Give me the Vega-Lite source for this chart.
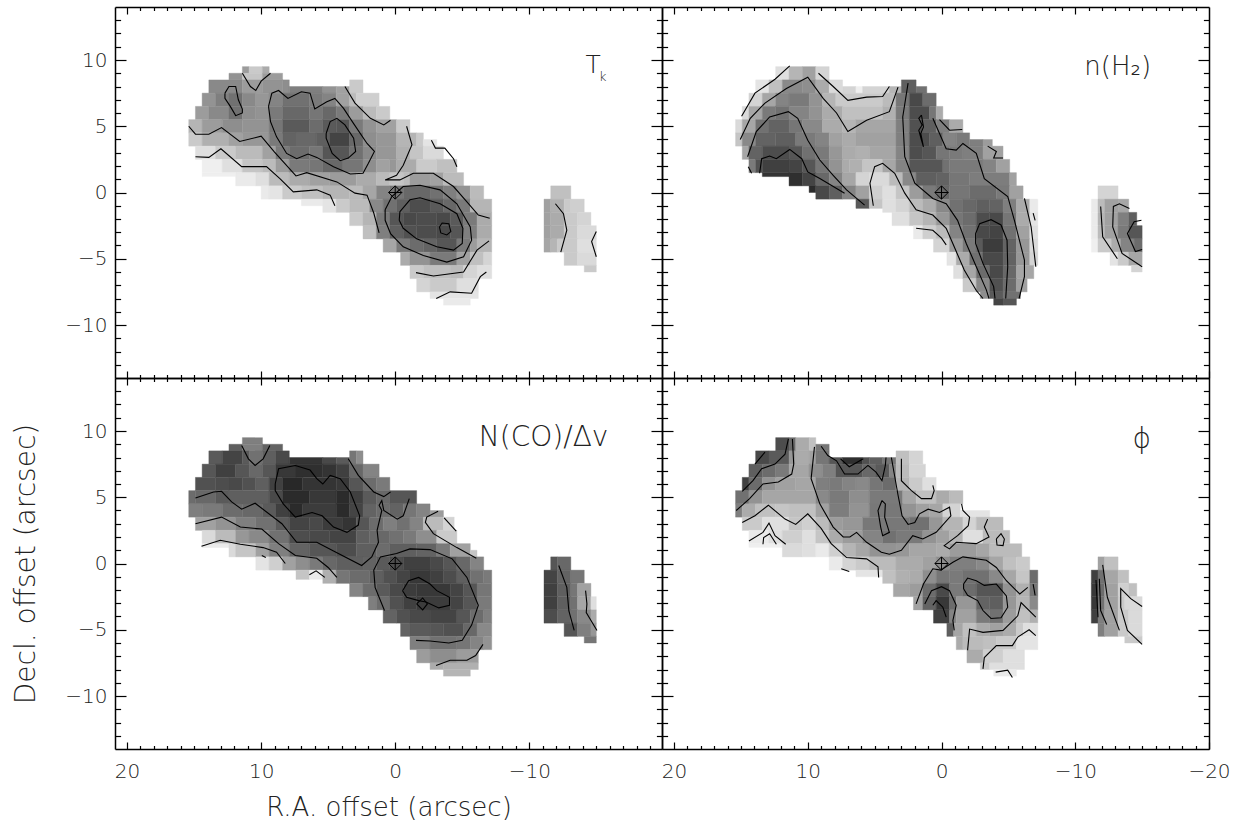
{"$schema":"https://vega.github.io/schema/vega-lite/v6.json","padding":{"left":12,"top":6,"right":10,"bottom":5},"background":"white","spacing":0,"columns":2,"bounds":"flush",
"config":{"view":{"stroke":null},"axis":{"grid":false,"domainColor":"#000","domainWidth":1.5,"tickColor":"#000","tickWidth":1.2,"labelFont":"DejaVu Sans","labelFontWeight":200,"labelFontSize":20,"labelColor":"#222","titleFont":"DejaVu Sans","titleFontWeight":200,"titleFontSize":26,"titleColor":"#222","labelOverlap":false,"labelBound":false,"labelFlush":false}},
"datasets":{
"t":[
{"x":11.4,"x2":10.9,"y":9.5,"y2":9,"v":160},{"x":10.9,"x2":9.9,"y":9.5,"y2":9,"v":205},{"x":9.9,"x2":9.4,"y":9.5,"y2":9,"v":175},
{"x":12.4,"x2":11.4,"y":9,"y2":8.5,"v":150},{"x":11.4,"x2":9.9,"y":9,"y2":8.5,"v":200},{"x":9.9,"x2":8.4,"y":9,"y2":8.5,"v":160},
{"x":13.9,"x2":11.4,"y":8.5,"y2":7.5,"v":140},{"x":11.4,"x2":9.9,"y":8.5,"y2":7.5,"v":160},{"x":9.9,"x2":8.4,"y":8.5,"y2":7.5,"v":150},{"x":8.4,"x2":7.9,"y":8.5,"y2":7.5,"v":145},{"x":7.9,"x2":5.4,"y":8,"y2":7.5,"v":130},{"x":5.4,"x2":4.4,"y":8,"y2":7.5,"v":150},{"x":4.4,"x2":3.4,"y":8,"y2":7.5,"v":165},{"x":3.4,"x2":2.4,"y":8.5,"y2":7.5,"v":205},
{"x":14.4,"x2":13.4,"y":7.5,"y2":6.5,"v":150},{"x":13.4,"x2":12.4,"y":7.5,"y2":6.5,"v":130},{"x":12.4,"x2":11.4,"y":7.5,"y2":6.5,"v":115},{"x":11.4,"x2":10.4,"y":7.5,"y2":6.5,"v":140},{"x":10.4,"x2":9.4,"y":7.5,"y2":6.5,"v":155},{"x":9.4,"x2":8.4,"y":7.5,"y2":6.5,"v":135},{"x":8.4,"x2":6.4,"y":7.5,"y2":6.5,"v":115},{"x":6.4,"x2":5.4,"y":7.5,"y2":6.5,"v":125},{"x":5.4,"x2":4.4,"y":7.5,"y2":6.5,"v":135},{"x":4.4,"x2":3.4,"y":7.5,"y2":6.5,"v":165},{"x":3.4,"x2":2.9,"y":7.5,"y2":6.5,"v":190},{"x":2.9,"x2":1.2,"y":7.5,"y2":6.5,"v":210},
{"x":14.9,"x2":13.9,"y":6.5,"y2":5.5,"v":160},{"x":13.9,"x2":12.4,"y":6.5,"y2":5.5,"v":140},{"x":12.4,"x2":11.4,"y":6.5,"y2":5.5,"v":115},{"x":11.4,"x2":10.4,"y":6.5,"y2":5.5,"v":145},{"x":10.4,"x2":9.4,"y":6.5,"y2":5.5,"v":150},{"x":9.4,"x2":8.4,"y":6.5,"y2":5.5,"v":125},{"x":8.4,"x2":6.4,"y":6.5,"y2":5.5,"v":105},{"x":6.4,"x2":5.4,"y":6.5,"y2":5.5,"v":120},{"x":5.4,"x2":4.4,"y":6.5,"y2":5.5,"v":105},{"x":4.4,"x2":3.4,"y":6.5,"y2":5.5,"v":125},{"x":3.4,"x2":2.4,"y":6.5,"y2":5.5,"v":160},{"x":2.4,"x2":1.4,"y":6.5,"y2":5.5,"v":190},{"x":1.4,"x2":0.4,"y":6.5,"y2":5.5,"v":205},
{"x":15.4,"x2":14.4,"y":5.5,"y2":4.5,"v":185},{"x":14.4,"x2":12.9,"y":5.5,"y2":4.5,"v":160},{"x":12.9,"x2":11.4,"y":5.5,"y2":4.5,"v":145},{"x":11.4,"x2":9.4,"y":5.5,"y2":4.5,"v":150},{"x":9.4,"x2":8.4,"y":5.5,"y2":4.5,"v":120},{"x":8.4,"x2":6.4,"y":5.5,"y2":4.5,"v":90},{"x":6.4,"x2":5.4,"y":5.5,"y2":4.5,"v":110},{"x":5.4,"x2":4.4,"y":5.5,"y2":4.5,"v":90},{"x":4.4,"x2":3.4,"y":5.5,"y2":4.5,"v":85},{"x":3.4,"x2":2.4,"y":5.5,"y2":4.5,"v":125},{"x":2.4,"x2":1.4,"y":5.5,"y2":4.5,"v":150},{"x":1.4,"x2":-0.1,"y":5.5,"y2":4.5,"v":165},{"x":-0.1,"x2":-1.1,"y":5.5,"y2":4.5,"v":205},
{"x":15.4,"x2":14.4,"y":4.5,"y2":3.5,"v":205},{"x":14.4,"x2":12.4,"y":4.5,"y2":3.5,"v":180},{"x":12.4,"x2":11.4,"y":4.5,"y2":3.5,"v":165},{"x":11.4,"x2":9.4,"y":4.5,"y2":3.5,"v":155},{"x":9.4,"x2":8.4,"y":4.5,"y2":3.5,"v":125},{"x":8.4,"x2":7.4,"y":4.5,"y2":3.5,"v":100},{"x":7.4,"x2":5.9,"y":4.5,"y2":3.5,"v":105},{"x":5.9,"x2":4.9,"y":4.5,"y2":3.5,"v":95},{"x":4.9,"x2":3.4,"y":4.5,"y2":3.5,"v":65},{"x":3.4,"x2":2.4,"y":4.5,"y2":3.5,"v":105},{"x":2.4,"x2":1.4,"y":4.5,"y2":3.5,"v":145},{"x":1.4,"x2":-0.1,"y":4.5,"y2":3.5,"v":155},{"x":-0.1,"x2":-1.6,"y":4.5,"y2":3.5,"v":185},{"x":-1.6,"x2":-2.1,"y":4.5,"y2":3.5,"v":205},{"x":-2.1,"x2":-3.1,"y":4,"y2":3.5,"v":230},
{"x":14.9,"x2":13.4,"y":3.5,"y2":2.5,"v":225},{"x":13.4,"x2":11.9,"y":3.5,"y2":2.5,"v":205},{"x":11.9,"x2":9.9,"y":3.5,"y2":2.5,"v":190},{"x":9.9,"x2":8.9,"y":3.5,"y2":2.5,"v":165},{"x":8.9,"x2":7.9,"y":3.5,"y2":2.5,"v":125},{"x":7.9,"x2":6.4,"y":3.5,"y2":2.5,"v":110},{"x":6.4,"x2":5.4,"y":3.5,"y2":2.5,"v":120},{"x":5.4,"x2":3.4,"y":3.5,"y2":2.5,"v":85},{"x":3.4,"x2":2.4,"y":3.5,"y2":2.5,"v":115},{"x":2.4,"x2":1.4,"y":3.5,"y2":2.5,"v":140},{"x":1.4,"x2":-0.1,"y":3.5,"y2":2.5,"v":155},{"x":-0.1,"x2":-1.1,"y":3.5,"y2":2.5,"v":180},{"x":-1.1,"x2":-2.1,"y":3.5,"y2":2.5,"v":200},{"x":-2.1,"x2":-3.6,"y":3.5,"y2":2.5,"v":220},
{"x":14.4,"x2":12.9,"y":2.5,"y2":1.5,"v":240},{"x":12.9,"x2":11.4,"y":2.5,"y2":1.5,"v":225},{"x":11.4,"x2":9.9,"y":2.5,"y2":1.5,"v":200},{"x":9.9,"x2":8.9,"y":2.5,"y2":1.5,"v":190},{"x":8.9,"x2":7.9,"y":2.5,"y2":1.5,"v":160},{"x":7.9,"x2":6.4,"y":2.5,"y2":1.5,"v":125},{"x":6.4,"x2":5.4,"y":2.5,"y2":1.5,"v":120},{"x":5.4,"x2":3.9,"y":2.5,"y2":1.5,"v":105},{"x":3.9,"x2":2.4,"y":2.5,"y2":1.5,"v":120},{"x":2.4,"x2":1.4,"y":2.5,"y2":1.5,"v":145},{"x":1.4,"x2":0.4,"y":2.5,"y2":1.5,"v":165},{"x":0.4,"x2":-0.1,"y":2.5,"y2":1.5,"v":155},{"x":-0.1,"x2":-1.6,"y":2.5,"y2":1.5,"v":175},{"x":-1.6,"x2":-3.1,"y":2.5,"y2":1.5,"v":205},{"x":-3.1,"x2":-4.6,"y":2.5,"y2":1.5,"v":195},
{"x":14.4,"x2":11.9,"y":1.5,"y2":1.2,"v":240},{"x":11.9,"x2":10.4,"y":1.5,"y2":0.5,"v":235},{"x":10.4,"x2":9.4,"y":1.5,"y2":0.5,"v":225},{"x":9.4,"x2":7.9,"y":1.5,"y2":0.5,"v":190},{"x":7.9,"x2":6.4,"y":1.5,"y2":0.5,"v":175},{"x":6.4,"x2":4.9,"y":1.5,"y2":0.5,"v":165},{"x":4.9,"x2":2.9,"y":1.5,"y2":0.5,"v":160},{"x":2.9,"x2":1.4,"y":1.5,"y2":0.5,"v":175},{"x":1.4,"x2":0.4,"y":1.5,"y2":0.5,"v":190},{"x":0.4,"x2":-0.6,"y":1.5,"y2":0.5,"v":200},{"x":-0.6,"x2":-1.1,"y":1.5,"y2":0.5,"v":190},{"x":-1.1,"x2":-2.6,"y":1.5,"y2":0.5,"v":160},{"x":-2.6,"x2":-3.6,"y":1.5,"y2":0.5,"v":165},{"x":-3.6,"x2":-5.1,"y":1.5,"y2":0.5,"v":190},
{"x":10,"x2":9.4,"y":0.5,"y2":-0.5,"v":235},{"x":9.4,"x2":8.4,"y":0.5,"y2":-0.5,"v":230},{"x":8.4,"x2":7,"y":0.5,"y2":-0.5,"v":205},{"x":7,"x2":5.4,"y":0.5,"y2":-0.5,"v":195},{"x":5.4,"x2":3.4,"y":0.5,"y2":-0.5,"v":185},{"x":3.4,"x2":2.4,"y":0.5,"y2":-0.5,"v":190},{"x":2.4,"x2":1.4,"y":0.5,"y2":-0.5,"v":170},{"x":1.4,"x2":0.4,"y":0.5,"y2":-0.5,"v":135},{"x":0.4,"x2":-0.6,"y":0.5,"y2":-0.5,"v":120},{"x":-0.6,"x2":-2.6,"y":0.5,"y2":-0.5,"v":105},{"x":-2.6,"x2":-3.6,"y":0.5,"y2":-0.5,"v":115},{"x":-3.6,"x2":-4.6,"y":0.5,"y2":-0.5,"v":130},{"x":-4.6,"x2":-5.6,"y":0.5,"y2":-0.5,"v":150},{"x":-5.6,"x2":-6.6,"y":0.5,"y2":-0.5,"v":190},
{"x":7,"x2":5.4,"y":-0.5,"y2":-1,"v":235},{"x":5.4,"x2":4.4,"y":-0.5,"y2":-1.5,"v":230},{"x":4.4,"x2":3.4,"y":-0.5,"y2":-1.5,"v":205},{"x":3.4,"x2":1.9,"y":-0.5,"y2":-1.5,"v":190},{"x":1.9,"x2":0.9,"y":-0.5,"y2":-1.5,"v":140},{"x":0.9,"x2":-0.1,"y":-0.5,"y2":-1.5,"v":115},{"x":-0.1,"x2":-1.1,"y":-0.5,"y2":-1.5,"v":95},{"x":-1.1,"x2":-2.6,"y":-0.5,"y2":-1.5,"v":75},{"x":-2.6,"x2":-3.6,"y":-0.5,"y2":-1.5,"v":90},{"x":-3.6,"x2":-4.6,"y":-0.5,"y2":-1.5,"v":105},{"x":-4.6,"x2":-5.6,"y":-0.5,"y2":-1.5,"v":125},{"x":-5.6,"x2":-7.2,"y":-0.5,"y2":-1.5,"v":185},
{"x":3.4,"x2":2.4,"y":-1.5,"y2":-2.5,"v":205},{"x":2.4,"x2":1.4,"y":-1.5,"y2":-2.5,"v":185},{"x":1.4,"x2":0.4,"y":-1.5,"y2":-2.5,"v":125},{"x":0.4,"x2":-0.6,"y":-1.5,"y2":-2.5,"v":85},{"x":-0.6,"x2":-1.6,"y":-1.5,"y2":-2.5,"v":70},{"x":-1.6,"x2":-3.1,"y":-1.5,"y2":-2.5,"v":75},{"x":-3.1,"x2":-4.1,"y":-1.5,"y2":-2.5,"v":70},{"x":-4.1,"x2":-5.1,"y":-1.5,"y2":-2.5,"v":90},{"x":-5.1,"x2":-6.1,"y":-1.5,"y2":-2.5,"v":125},{"x":-6.1,"x2":-7.2,"y":-1.5,"y2":-2.5,"v":175},
{"x":2.4,"x2":1.4,"y":-2.5,"y2":-3.5,"v":195},{"x":1.4,"x2":0.4,"y":-2.5,"y2":-3.5,"v":130},{"x":0.4,"x2":-0.6,"y":-2.5,"y2":-3.5,"v":95},{"x":-0.6,"x2":-1.6,"y":-2.5,"y2":-3.5,"v":80},{"x":-1.6,"x2":-3.1,"y":-2.5,"y2":-3.5,"v":75},{"x":-3.1,"x2":-4.1,"y":-2.5,"y2":-3.5,"v":70},{"x":-4.1,"x2":-5.1,"y":-2.5,"y2":-3.5,"v":85},{"x":-5.1,"x2":-6.1,"y":-2.5,"y2":-3.5,"v":130},{"x":-6.1,"x2":-7.2,"y":-2.5,"y2":-3.5,"v":175},
{"x":0.9,"x2":-0.1,"y":-3.5,"y2":-4.5,"v":170},{"x":-0.1,"x2":-1.1,"y":-3.5,"y2":-4.5,"v":125},{"x":-1.1,"x2":-2.1,"y":-3.5,"y2":-4.5,"v":110},{"x":-2.1,"x2":-3.1,"y":-3.5,"y2":-4.5,"v":100},{"x":-3.1,"x2":-4.6,"y":-3.5,"y2":-4.5,"v":85},{"x":-4.6,"x2":-5.6,"y":-3.5,"y2":-4.5,"v":125},{"x":-5.6,"x2":-6.1,"y":-3.5,"y2":-4.5,"v":160},{"x":-6.1,"x2":-7.2,"y":-3.5,"y2":-4.5,"v":185},
{"x":-0.4,"x2":-1.1,"y":-4.5,"y2":-5.5,"v":175},{"x":-1.1,"x2":-2.6,"y":-4.5,"y2":-5.5,"v":150},{"x":-2.6,"x2":-4.6,"y":-4.5,"y2":-5.5,"v":125},{"x":-4.6,"x2":-5.6,"y":-4.5,"y2":-5.5,"v":165},{"x":-5.6,"x2":-6.6,"y":-4.5,"y2":-5.5,"v":195},{"x":-6.6,"x2":-7.2,"y":-4.5,"y2":-5.5,"v":215},
{"x":-1.1,"x2":-2.1,"y":-5.5,"y2":-6.5,"v":205},{"x":-2.1,"x2":-4.1,"y":-5.5,"y2":-6.5,"v":195},{"x":-4.1,"x2":-5.1,"y":-5.5,"y2":-6.5,"v":190},{"x":-5.1,"x2":-6.1,"y":-5.5,"y2":-6.5,"v":215},{"x":-6.1,"x2":-7.2,"y":-5.5,"y2":-6.5,"v":225},
{"x":-1.6,"x2":-2.6,"y":-6.5,"y2":-7.5,"v":215},{"x":-2.6,"x2":-4.6,"y":-6.5,"y2":-7.5,"v":205},{"x":-4.6,"x2":-6.2,"y":-6.5,"y2":-7.5,"v":225},
{"x":-2.6,"x2":-6.2,"y":-7.5,"y2":-8,"v":230},{"x":-3.6,"x2":-5.6,"y":-8,"y2":-8.5,"v":235},
{"x":-11.6,"x2":-13.1,"y":0.5,"y2":-0.5,"v":195},
{"x":-11.1,"x2":-11.6,"y":-0.5,"y2":-1.5,"v":165},{"x":-11.6,"x2":-12.6,"y":-0.5,"y2":-1.5,"v":180},{"x":-12.6,"x2":-13.1,"y":-0.5,"y2":-1.5,"v":205},{"x":-13.1,"x2":-14.1,"y":-0.5,"y2":-1.5,"v":210},
{"x":-11.1,"x2":-11.6,"y":-1.5,"y2":-2.5,"v":165},{"x":-11.6,"x2":-12.6,"y":-1.5,"y2":-2.5,"v":175},{"x":-12.6,"x2":-13.6,"y":-1.5,"y2":-2.5,"v":205},{"x":-13.6,"x2":-14.6,"y":-1.5,"y2":-2.5,"v":215},
{"x":-11.1,"x2":-11.6,"y":-2.5,"y2":-3.5,"v":165},{"x":-11.6,"x2":-12.6,"y":-2.5,"y2":-3.5,"v":175},{"x":-12.6,"x2":-13.6,"y":-2.5,"y2":-3.5,"v":205},{"x":-13.6,"x2":-15,"y":-2.5,"y2":-3.5,"v":220},
{"x":-11.1,"x2":-11.6,"y":-3.5,"y2":-4.5,"v":170},{"x":-11.6,"x2":-12.1,"y":-3.5,"y2":-4.5,"v":185},{"x":-12.1,"x2":-13.6,"y":-3.5,"y2":-4.5,"v":205},{"x":-13.6,"x2":-15,"y":-3.5,"y2":-4.5,"v":225},
{"x":-12.6,"x2":-13.6,"y":-4.5,"y2":-5.5,"v":205},{"x":-13.6,"x2":-15,"y":-4.5,"y2":-5.5,"v":220},{"x":-14.1,"x2":-15,"y":-5.5,"y2":-6,"v":205}
],
"n":[
{"x":12.4,"x2":11.4,"y":9.5,"y2":8.5,"v":225},{"x":11.4,"x2":10.4,"y":9.5,"y2":8.5,"v":185},{"x":10.4,"x2":9.4,"y":9.5,"y2":8.5,"v":165},{"x":9.4,"x2":8.4,"y":9.5,"y2":8.5,"v":215},
{"x":13.9,"x2":12.9,"y":8.5,"y2":7.5,"v":230},{"x":12.9,"x2":11.9,"y":8.5,"y2":7.5,"v":195},{"x":11.9,"x2":10.4,"y":8.5,"y2":7.5,"v":140},{"x":10.4,"x2":9.4,"y":8.5,"y2":7.5,"v":145},{"x":9.4,"x2":8.4,"y":8.5,"y2":7.5,"v":175},{"x":8.4,"x2":7.4,"y":8.5,"y2":7.5,"v":220},{"x":7.4,"x2":6.4,"y":8,"y2":7.5,"v":215},{"x":6.4,"x2":5.9,"y":8,"y2":7.5,"v":240},{"x":5.9,"x2":3.9,"y":8,"y2":7.5,"v":215},{"x":3.9,"x2":3,"y":8,"y2":7.5,"v":185},{"x":3,"x2":1.9,"y":8.5,"y2":7.5,"v":95},{"x":1.9,"x2":1.1,"y":8,"y2":7.5,"v":115},
{"x":14.4,"x2":13.4,"y":7.5,"y2":6.5,"v":215},{"x":13.4,"x2":12.4,"y":7.5,"y2":6.5,"v":170},{"x":12.4,"x2":11.4,"y":7.5,"y2":6.5,"v":135},{"x":11.4,"x2":9.9,"y":7.5,"y2":6.5,"v":125},{"x":9.9,"x2":8.9,"y":7.5,"y2":6.5,"v":150},{"x":8.9,"x2":7.9,"y":7.5,"y2":6.5,"v":185},{"x":7.9,"x2":4.4,"y":7.5,"y2":6.5,"v":205},{"x":4.4,"x2":3.4,"y":7.5,"y2":6.5,"v":190},{"x":3.4,"x2":2.4,"y":7.5,"y2":6.5,"v":120},{"x":2.4,"x2":1.4,"y":7.5,"y2":6.5,"v":70},{"x":1.4,"x2":0.4,"y":7.5,"y2":6.5,"v":110},
{"x":14.9,"x2":14.4,"y":6.5,"y2":5.5,"v":220},{"x":14.4,"x2":13.4,"y":6.5,"y2":5.5,"v":170},{"x":13.4,"x2":12.4,"y":6.5,"y2":5.5,"v":125},{"x":12.4,"x2":11.4,"y":6.5,"y2":5.5,"v":115},{"x":11.4,"x2":9.9,"y":6.5,"y2":5.5,"v":135},{"x":9.9,"x2":8.9,"y":6.5,"y2":5.5,"v":150},{"x":8.9,"x2":7.4,"y":6.5,"y2":5.5,"v":175},{"x":7.4,"x2":4.4,"y":6.5,"y2":5.5,"v":195},{"x":4.4,"x2":3.4,"y":6.5,"y2":5.5,"v":180},{"x":3.4,"x2":2.4,"y":6.5,"y2":5.5,"v":125},{"x":2.4,"x2":0.9,"y":6.5,"y2":5.5,"v":75},{"x":0.9,"x2":0.4,"y":6.5,"y2":5.5,"v":120},{"x":0.4,"x2":-0.1,"y":6.5,"y2":5.5,"v":175},
{"x":15.4,"x2":14.9,"y":5.5,"y2":4.5,"v":220},{"x":14.9,"x2":13.9,"y":5.5,"y2":4.5,"v":170},{"x":13.9,"x2":12.9,"y":5.5,"y2":4.5,"v":115},{"x":12.9,"x2":11.4,"y":5.5,"y2":4.5,"v":100},{"x":11.4,"x2":10.4,"y":5.5,"y2":4.5,"v":120},{"x":10.4,"x2":8.9,"y":5.5,"y2":4.5,"v":140},{"x":8.9,"x2":7.4,"y":5.5,"y2":4.5,"v":175},{"x":7.4,"x2":6.4,"y":5.5,"y2":4.5,"v":185},{"x":6.4,"x2":3.4,"y":5.5,"y2":4.5,"v":170},{"x":3.4,"x2":2.4,"y":5.5,"y2":4.5,"v":130},{"x":2.4,"x2":1.4,"y":5.5,"y2":4.5,"v":80},{"x":1.4,"x2":0.4,"y":5.5,"y2":4.5,"v":95},{"x":0.4,"x2":-0.6,"y":5.5,"y2":4.5,"v":130},{"x":-0.6,"x2":-1.6,"y":5.5,"y2":4.5,"v":175},
{"x":15.4,"x2":14.9,"y":4.5,"y2":3.5,"v":200},{"x":14.9,"x2":13.9,"y":4.5,"y2":3.5,"v":140},{"x":13.9,"x2":12.4,"y":4.5,"y2":3.5,"v":100},{"x":12.4,"x2":10.9,"y":4.5,"y2":3.5,"v":95},{"x":10.9,"x2":9.4,"y":4.5,"y2":3.5,"v":125},{"x":9.4,"x2":8.4,"y":4.5,"y2":3.5,"v":135},{"x":8.4,"x2":7.4,"y":4.5,"y2":3.5,"v":165},{"x":7.4,"x2":6.4,"y":4.5,"y2":3.5,"v":175},{"x":6.4,"x2":3.4,"y":4.5,"y2":3.5,"v":165},{"x":3.4,"x2":2.4,"y":4.5,"y2":3.5,"v":130},{"x":2.4,"x2":0.9,"y":4.5,"y2":3.5,"v":75},{"x":0.9,"x2":-0.1,"y":4.5,"y2":3.5,"v":95},{"x":-0.1,"x2":-1.1,"y":4.5,"y2":3.5,"v":135},{"x":-1.1,"x2":-2.1,"y":4.5,"y2":3.5,"v":125},{"x":-2.1,"x2":-3.1,"y":4,"y2":3.5,"v":130},{"x":-3.1,"x2":-3.8,"y":4,"y2":3.5,"v":160},
{"x":14.9,"x2":14.4,"y":3.5,"y2":2.5,"v":170},{"x":14.4,"x2":13.4,"y":3.5,"y2":2.5,"v":100},{"x":13.4,"x2":11.4,"y":3.5,"y2":2.5,"v":75},{"x":11.4,"x2":10.4,"y":3.5,"y2":2.5,"v":85},{"x":10.4,"x2":9.4,"y":3.5,"y2":2.5,"v":115},{"x":9.4,"x2":8.4,"y":3.5,"y2":2.5,"v":125},{"x":8.4,"x2":7.4,"y":3.5,"y2":2.5,"v":155},{"x":7.4,"x2":6.4,"y":3.5,"y2":2.5,"v":175},{"x":6.4,"x2":5.4,"y":3.5,"y2":2.5,"v":180},{"x":5.4,"x2":3.4,"y":3.5,"y2":2.5,"v":170},{"x":3.4,"x2":2.4,"y":3.5,"y2":2.5,"v":135},{"x":2.4,"x2":1.4,"y":3.5,"y2":2.5,"v":75},{"x":1.4,"x2":0.4,"y":3.5,"y2":2.5,"v":85},{"x":0.4,"x2":-0.6,"y":3.5,"y2":2.5,"v":120},{"x":-0.6,"x2":-1.6,"y":3.5,"y2":2.5,"v":125},{"x":-1.6,"x2":-3.1,"y":3.5,"y2":2.5,"v":130},{"x":-3.1,"x2":-4.6,"y":3.5,"y2":2.5,"v":165},
{"x":14.4,"x2":13.9,"y":2.5,"y2":1.5,"v":125},{"x":13.9,"x2":13.4,"y":2.5,"y2":1.5,"v":80},{"x":13.4,"x2":11.4,"y":2.5,"y2":1.5,"v":60},{"x":11.4,"x2":10.4,"y":2.5,"y2":1.5,"v":65},{"x":10.4,"x2":9.4,"y":2.5,"y2":1.5,"v":85},{"x":9.4,"x2":8.4,"y":2.5,"y2":1.5,"v":120},{"x":8.4,"x2":7.4,"y":2.5,"y2":1.5,"v":150},{"x":7.4,"x2":6.9,"y":2.5,"y2":1.5,"v":175},{"x":6.9,"x2":5.9,"y":2.5,"y2":1.5,"v":180},{"x":5.9,"x2":4.4,"y":2.5,"y2":1.5,"v":200},{"x":4.4,"x2":3.4,"y":2.5,"y2":1.5,"v":170},{"x":3.4,"x2":2.4,"y":2.5,"y2":1.5,"v":135},{"x":2.4,"x2":-0.1,"y":2.5,"y2":1.5,"v":85},{"x":-0.1,"x2":-0.6,"y":2.5,"y2":1.5,"v":115},{"x":-0.6,"x2":-3.1,"y":2.5,"y2":1.5,"v":125},{"x":-3.1,"x2":-4.1,"y":2.5,"y2":1.5,"v":135},{"x":-4.1,"x2":-5.1,"y":2.5,"y2":1.5,"v":165},
{"x":13.4,"x2":11.4,"y":1.5,"y2":1.2,"v":45},{"x":11.4,"x2":10.4,"y":1.5,"y2":0.5,"v":40},{"x":10.4,"x2":9.4,"y":1.5,"y2":0.5,"v":65},{"x":9.4,"x2":8.4,"y":1.5,"y2":0.5,"v":105},{"x":8.4,"x2":7.4,"y":1.5,"y2":0.5,"v":135},{"x":7.4,"x2":6.4,"y":1.5,"y2":0.5,"v":170},{"x":6.4,"x2":5.4,"y":1.5,"y2":0.5,"v":215},{"x":5.4,"x2":3.9,"y":1.5,"y2":0.5,"v":220},{"x":3.9,"x2":2.9,"y":1.5,"y2":0.5,"v":190},{"x":2.9,"x2":1.9,"y":1.5,"y2":0.5,"v":140},{"x":1.9,"x2":0.4,"y":1.5,"y2":0.5,"v":95},{"x":0.4,"x2":-0.6,"y":1.5,"y2":0.5,"v":100},{"x":-0.6,"x2":-2.1,"y":1.5,"y2":0.5,"v":120},{"x":-2.1,"x2":-5.1,"y":1.5,"y2":0.5,"v":128},{"x":-5.1,"x2":-5.6,"y":1.5,"y2":0.5,"v":165},
{"x":9.9,"x2":9.4,"y":0.5,"y2":0,"v":35},{"x":9.4,"x2":8.4,"y":0.5,"y2":-0.5,"v":70},{"x":8.4,"x2":7.4,"y":0.5,"y2":-0.5,"v":95},{"x":7.4,"x2":6.4,"y":0.5,"y2":-0.5,"v":135},{"x":6.4,"x2":5.4,"y":0.5,"y2":-0.5,"v":165},{"x":5.4,"x2":4.4,"y":0.5,"y2":-0.5,"v":210},{"x":4.4,"x2":3.4,"y":0.5,"y2":-0.5,"v":225},{"x":3.4,"x2":2.4,"y":0.5,"y2":-0.5,"v":200},{"x":2.4,"x2":1.4,"y":0.5,"y2":-0.5,"v":160},{"x":1.4,"x2":0.4,"y":0.5,"y2":-0.5,"v":125},{"x":0.4,"x2":-0.6,"y":0.5,"y2":-0.5,"v":105},{"x":-0.6,"x2":-2.1,"y":0.5,"y2":-0.5,"v":120},{"x":-2.1,"x2":-4.1,"y":0.5,"y2":-0.5,"v":110},{"x":-4.1,"x2":-5.1,"y":0.5,"y2":-0.5,"v":125},{"x":-5.1,"x2":-6.1,"y":0.5,"y2":-0.5,"v":165},
{"x":6.4,"x2":5.4,"y":-0.5,"y2":-1.2,"v":90},{"x":5.4,"x2":4.4,"y":-0.5,"y2":-1.2,"v":200},{"x":4.4,"x2":3.4,"y":-0.5,"y2":-1.5,"v":225},{"x":3.4,"x2":2.4,"y":-0.5,"y2":-1.5,"v":215},{"x":2.4,"x2":1.4,"y":-0.5,"y2":-1.5,"v":190},{"x":1.4,"x2":0.4,"y":-0.5,"y2":-1.5,"v":175},{"x":0.4,"x2":-0.6,"y":-0.5,"y2":-1.5,"v":140},{"x":-0.6,"x2":-1.6,"y":-0.5,"y2":-1.5,"v":115},{"x":-1.6,"x2":-2.6,"y":-0.5,"y2":-1.5,"v":105},{"x":-2.6,"x2":-3.6,"y":-0.5,"y2":-1.5,"v":95},{"x":-3.6,"x2":-4.6,"y":-0.5,"y2":-1.5,"v":100},{"x":-4.6,"x2":-5.6,"y":-0.5,"y2":-1.5,"v":130},{"x":-5.6,"x2":-6.6,"y":-0.5,"y2":-1.5,"v":175},{"x":-6.6,"x2":-7.2,"y":-0.5,"y2":-1.5,"v":235},
{"x":3.7,"x2":2.4,"y":-1.5,"y2":-2.5,"v":225},{"x":2.4,"x2":1.4,"y":-1.5,"y2":-2.5,"v":200},{"x":1.4,"x2":0.4,"y":-1.5,"y2":-2.5,"v":185},{"x":0.4,"x2":-0.6,"y":-1.5,"y2":-2.5,"v":155},{"x":-0.6,"x2":-1.6,"y":-1.5,"y2":-2.5,"v":120},{"x":-1.6,"x2":-2.6,"y":-1.5,"y2":-2.5,"v":110},{"x":-2.6,"x2":-3.6,"y":-1.5,"y2":-2.5,"v":75},{"x":-3.6,"x2":-4.6,"y":-1.5,"y2":-2.5,"v":70},{"x":-4.6,"x2":-5.6,"y":-1.5,"y2":-2.5,"v":120},{"x":-5.6,"x2":-6.6,"y":-1.5,"y2":-2.5,"v":175},{"x":-6.6,"x2":-7.2,"y":-1.5,"y2":-2.5,"v":230},
{"x":2.1,"x2":1.4,"y":-2.5,"y2":-3.5,"v":235},{"x":1.4,"x2":0.4,"y":-2.5,"y2":-3.5,"v":210},{"x":0.4,"x2":-0.6,"y":-2.5,"y2":-3.5,"v":190},{"x":-0.6,"x2":-1.6,"y":-2.5,"y2":-3.5,"v":135},{"x":-1.6,"x2":-2.6,"y":-2.5,"y2":-3.5,"v":115},{"x":-2.6,"x2":-3.6,"y":-2.5,"y2":-3.5,"v":70},{"x":-3.6,"x2":-4.6,"y":-2.5,"y2":-3.5,"v":65},{"x":-4.6,"x2":-5.6,"y":-2.5,"y2":-3.5,"v":115},{"x":-5.6,"x2":-6.6,"y":-2.5,"y2":-3.5,"v":165},{"x":-6.6,"x2":-7.2,"y":-2.5,"y2":-3.5,"v":225},
{"x":0.6,"x2":-0.6,"y":-3.5,"y2":-4.5,"v":215},{"x":-0.6,"x2":-1.6,"y":-3.5,"y2":-4.5,"v":160},{"x":-1.6,"x2":-2.6,"y":-3.5,"y2":-4.5,"v":125},{"x":-2.6,"x2":-3.1,"y":-3.5,"y2":-4.5,"v":90},{"x":-3.1,"x2":-4.6,"y":-3.5,"y2":-4.5,"v":55},{"x":-4.6,"x2":-5.6,"y":-3.5,"y2":-4.5,"v":100},{"x":-5.6,"x2":-6.6,"y":-3.5,"y2":-4.5,"v":155},{"x":-6.6,"x2":-7.2,"y":-3.5,"y2":-4.5,"v":220},
{"x":-0.4,"x2":-1.1,"y":-4.5,"y2":-5.5,"v":230},{"x":-1.1,"x2":-2.1,"y":-4.5,"y2":-5.5,"v":175},{"x":-2.1,"x2":-3.1,"y":-4.5,"y2":-5.5,"v":115},{"x":-3.1,"x2":-4.6,"y":-4.5,"y2":-5.5,"v":70},{"x":-4.6,"x2":-5.6,"y":-4.5,"y2":-5.5,"v":100},{"x":-5.6,"x2":-6.6,"y":-4.5,"y2":-5.5,"v":155},{"x":-6.6,"x2":-7.2,"y":-4.5,"y2":-5.5,"v":215},
{"x":-0.9,"x2":-1.6,"y":-5.5,"y2":-6.5,"v":225},{"x":-1.6,"x2":-2.6,"y":-5.5,"y2":-6.5,"v":170},{"x":-2.6,"x2":-3.6,"y":-5.5,"y2":-6.5,"v":110},{"x":-3.6,"x2":-4.6,"y":-5.5,"y2":-6.5,"v":70},{"x":-4.6,"x2":-5.6,"y":-5.5,"y2":-6.5,"v":105},{"x":-5.6,"x2":-6.9,"y":-5.5,"y2":-6.5,"v":170},
{"x":-1.6,"x2":-2.6,"y":-6.5,"y2":-7.5,"v":205},{"x":-2.6,"x2":-3.6,"y":-6.5,"y2":-7.5,"v":140},{"x":-3.6,"x2":-4.6,"y":-6.5,"y2":-7.5,"v":80},{"x":-4.6,"x2":-5.6,"y":-6.5,"y2":-7.5,"v":110},{"x":-5.6,"x2":-6.4,"y":-6.5,"y2":-7.5,"v":165},
{"x":-2.9,"x2":-3.6,"y":-7.5,"y2":-8,"v":145},{"x":-3.6,"x2":-4.6,"y":-7.5,"y2":-8,"v":90},{"x":-4.6,"x2":-5.9,"y":-7.5,"y2":-8,"v":115},{"x":-3.9,"x2":-4.6,"y":-8,"y2":-8.5,"v":65},{"x":-4.6,"x2":-5.6,"y":-8,"y2":-8.5,"v":85},
{"x":-11.7,"x2":-13.2,"y":0.5,"y2":-0.5,"v":215},
{"x":-11.2,"x2":-11.7,"y":-0.5,"y2":-1.5,"v":235},{"x":-11.7,"x2":-12.2,"y":-0.5,"y2":-1.5,"v":190},{"x":-12.2,"x2":-13.2,"y":-0.5,"y2":-1.5,"v":165},{"x":-13.2,"x2":-14,"y":-0.5,"y2":-1.5,"v":170},
{"x":-11.2,"x2":-11.7,"y":-1.5,"y2":-2.5,"v":235},{"x":-11.7,"x2":-12.2,"y":-1.5,"y2":-2.5,"v":185},{"x":-12.2,"x2":-13.2,"y":-1.5,"y2":-2.5,"v":165},{"x":-13.2,"x2":-14,"y":-1.5,"y2":-2.5,"v":130},{"x":-14,"x2":-14.6,"y":-1.5,"y2":-2.5,"v":95},
{"x":-11.2,"x2":-11.7,"y":-2.5,"y2":-3.5,"v":235},{"x":-11.7,"x2":-12.2,"y":-2.5,"y2":-3.5,"v":190},{"x":-12.2,"x2":-13.2,"y":-2.5,"y2":-3.5,"v":165},{"x":-13.2,"x2":-14,"y":-2.5,"y2":-3.5,"v":125},{"x":-14,"x2":-15,"y":-2.5,"y2":-3.5,"v":85},
{"x":-11.2,"x2":-11.7,"y":-3.5,"y2":-4.5,"v":240},{"x":-11.7,"x2":-12.7,"y":-3.5,"y2":-4.5,"v":205},{"x":-12.7,"x2":-13.4,"y":-3.5,"y2":-4.5,"v":175},{"x":-13.4,"x2":-14.4,"y":-3.5,"y2":-4.5,"v":135},{"x":-14.4,"x2":-15,"y":-3.5,"y2":-4.5,"v":110},
{"x":-12.6,"x2":-13.2,"y":-4.5,"y2":-5.5,"v":230},{"x":-13.2,"x2":-14,"y":-4.5,"y2":-5.5,"v":205},{"x":-14,"x2":-15,"y":-4.5,"y2":-5.5,"v":170},{"x":-14.2,"x2":-15,"y":-5.5,"y2":-6,"v":215}
],
"c":[
{"x":11.4,"x2":9.9,"y":9.5,"y2":9,"v":130},{"x":12.4,"x2":11.4,"y":9,"y2":8.5,"v":95},{"x":11.4,"x2":9.9,"y":9,"y2":8.5,"v":130},{"x":9.9,"x2":8.4,"y":9,"y2":8.5,"v":100},
{"x":13.9,"x2":12.9,"y":8.5,"y2":7.5,"v":90},{"x":12.9,"x2":11.4,"y":8.5,"y2":7.5,"v":65},{"x":11.4,"x2":10.9,"y":8.5,"y2":7.5,"v":90},{"x":10.9,"x2":9.9,"y":8.5,"y2":7.5,"v":115},{"x":9.9,"x2":8.9,"y":8.5,"y2":7.5,"v":95},{"x":8.9,"x2":7.9,"y":8.5,"y2":7.5,"v":70},{"x":7.9,"x2":5.4,"y":8,"y2":7.5,"v":45},{"x":5.4,"x2":4.4,"y":8,"y2":7.5,"v":70},{"x":4.4,"x2":3.4,"y":8,"y2":7.5,"v":90},{"x":3.4,"x2":2.9,"y":8.5,"y2":7.5,"v":120},{"x":2.9,"x2":2.4,"y":8.5,"y2":7.5,"v":145},
{"x":14.4,"x2":13.4,"y":7.5,"y2":6.5,"v":85},{"x":13.4,"x2":11.9,"y":7.5,"y2":6.5,"v":60},{"x":11.9,"x2":10.9,"y":7.5,"y2":6.5,"v":85},{"x":10.9,"x2":9.9,"y":7.5,"y2":6.5,"v":105},{"x":9.9,"x2":8.9,"y":7.5,"y2":6.5,"v":85},{"x":8.9,"x2":7.4,"y":7.5,"y2":6.5,"v":50},{"x":7.4,"x2":5.4,"y":7.5,"y2":6.5,"v":40},{"x":5.4,"x2":4.4,"y":7.5,"y2":6.5,"v":45},{"x":4.4,"x2":3.4,"y":7.5,"y2":6.5,"v":60},{"x":3.4,"x2":2.4,"y":7.5,"y2":6.5,"v":105},{"x":2.4,"x2":1.2,"y":7.5,"y2":6.5,"v":135},
{"x":14.9,"x2":13.4,"y":6.5,"y2":5.5,"v":80},{"x":13.4,"x2":12.4,"y":6.5,"y2":5.5,"v":75},{"x":12.4,"x2":11.4,"y":6.5,"y2":5.5,"v":70},{"x":11.4,"x2":10.4,"y":6.5,"y2":5.5,"v":80},{"x":10.4,"x2":9.4,"y":6.5,"y2":5.5,"v":95},{"x":9.4,"x2":8.4,"y":6.5,"y2":5.5,"v":60},{"x":8.4,"x2":6.9,"y":6.5,"y2":5.5,"v":30},{"x":6.9,"x2":4.4,"y":6.5,"y2":5.5,"v":45},{"x":4.4,"x2":3.4,"y":6.5,"y2":5.5,"v":50},{"x":3.4,"x2":2.4,"y":6.5,"y2":5.5,"v":85},{"x":2.4,"x2":1.4,"y":6.5,"y2":5.5,"v":110},{"x":1.4,"x2":0.4,"y":6.5,"y2":5.5,"v":125},
{"x":15.4,"x2":14.9,"y":5.5,"y2":4.5,"v":110},{"x":14.9,"x2":13.4,"y":5.5,"y2":4.5,"v":105},{"x":13.4,"x2":12.4,"y":5.5,"y2":4.5,"v":90},{"x":12.4,"x2":9.4,"y":5.5,"y2":4.5,"v":95},{"x":9.4,"x2":8.4,"y":5.5,"y2":4.5,"v":70},{"x":8.4,"x2":6.4,"y":5.5,"y2":4.5,"v":35},{"x":6.4,"x2":4.4,"y":5.5,"y2":4.5,"v":50},{"x":4.4,"x2":3.4,"y":5.5,"y2":4.5,"v":35},{"x":3.4,"x2":2.4,"y":5.5,"y2":4.5,"v":60},{"x":2.4,"x2":1.4,"y":5.5,"y2":4.5,"v":90},{"x":1.4,"x2":0.4,"y":5.5,"y2":4.5,"v":105},{"x":0.4,"x2":-1.6,"y":5.5,"y2":4.5,"v":85},
{"x":15.4,"x2":14.4,"y":4.5,"y2":3.5,"v":130},{"x":14.4,"x2":12.9,"y":4.5,"y2":3.5,"v":125},{"x":12.9,"x2":11.4,"y":4.5,"y2":3.5,"v":110},{"x":11.4,"x2":9.9,"y":4.5,"y2":3.5,"v":105},{"x":9.9,"x2":8.9,"y":4.5,"y2":3.5,"v":90},{"x":8.9,"x2":7.9,"y":4.5,"y2":3.5,"v":60},{"x":7.9,"x2":6.9,"y":4.5,"y2":3.5,"v":35},{"x":6.9,"x2":4.4,"y":4.5,"y2":3.5,"v":55},{"x":4.4,"x2":3.4,"y":4.5,"y2":3.5,"v":35},{"x":3.4,"x2":2.4,"y":4.5,"y2":3.5,"v":65},{"x":2.4,"x2":1.4,"y":4.5,"y2":3.5,"v":100},{"x":1.4,"x2":0.4,"y":4.5,"y2":3.5,"v":110},{"x":0.4,"x2":-0.6,"y":4.5,"y2":3.5,"v":100},{"x":-0.6,"x2":-1.6,"y":4.5,"y2":3.5,"v":120},{"x":-1.6,"x2":-2.6,"y":4.5,"y2":3.5,"v":135},{"x":-2.6,"x2":-3.6,"y":4,"y2":3.5,"v":160},
{"x":14.9,"x2":13.4,"y":3.5,"y2":2.5,"v":165},{"x":13.4,"x2":11.9,"y":3.5,"y2":2.5,"v":150},{"x":11.9,"x2":10.4,"y":3.5,"y2":2.5,"v":130},{"x":10.4,"x2":8.9,"y":3.5,"y2":2.5,"v":115},{"x":8.9,"x2":7.9,"y":3.5,"y2":2.5,"v":90},{"x":7.9,"x2":6.4,"y":3.5,"y2":2.5,"v":65},{"x":6.4,"x2":5.4,"y":3.5,"y2":2.5,"v":70},{"x":5.4,"x2":3.9,"y":3.5,"y2":2.5,"v":55},{"x":3.9,"x2":2.9,"y":3.5,"y2":2.5,"v":45},{"x":2.9,"x2":1.9,"y":3.5,"y2":2.5,"v":85},{"x":1.9,"x2":0.9,"y":3.5,"y2":2.5,"v":110},{"x":0.9,"x2":-0.1,"y":3.5,"y2":2.5,"v":130},{"x":-0.1,"x2":-1.1,"y":3.5,"y2":2.5,"v":115},{"x":-1.1,"x2":-2.1,"y":3.5,"y2":2.5,"v":135},{"x":-2.1,"x2":-3.6,"y":3.5,"y2":2.5,"v":190},{"x":-3.6,"x2":-4.4,"y":3.5,"y2":2.5,"v":215},
{"x":14.4,"x2":13.4,"y":2.5,"y2":1.5,"v":220},{"x":13.4,"x2":11.9,"y":2.5,"y2":1.5,"v":190},{"x":11.9,"x2":10.9,"y":2.5,"y2":1.5,"v":155},{"x":10.9,"x2":9.4,"y":2.5,"y2":1.5,"v":140},{"x":9.4,"x2":7.9,"y":2.5,"y2":1.5,"v":115},{"x":7.9,"x2":6.4,"y":2.5,"y2":1.5,"v":75},{"x":6.4,"x2":4.9,"y":2.5,"y2":1.5,"v":70},{"x":4.9,"x2":2.9,"y":2.5,"y2":1.5,"v":65},{"x":2.9,"x2":1.9,"y":2.5,"y2":1.5,"v":95},{"x":1.9,"x2":0.4,"y":2.5,"y2":1.5,"v":105},{"x":0.4,"x2":-0.6,"y":2.5,"y2":1.5,"v":115},{"x":-0.6,"x2":-1.6,"y":2.5,"y2":1.5,"v":125},{"x":-1.6,"x2":-3.1,"y":2.5,"y2":1.5,"v":145},{"x":-3.1,"x2":-4.6,"y":2.5,"y2":1.5,"v":205},
{"x":14.4,"x2":12.4,"y":1.5,"y2":1.2,"v":235},{"x":12.4,"x2":11.9,"y":1.5,"y2":0.5,"v":220},{"x":11.9,"x2":10.4,"y":1.5,"y2":0.5,"v":200},{"x":10.4,"x2":9.4,"y":1.5,"y2":0.5,"v":165},{"x":9.4,"x2":7.9,"y":1.5,"y2":0.5,"v":130},{"x":7.9,"x2":6.4,"y":1.5,"y2":0.5,"v":100},{"x":6.4,"x2":4.4,"y":1.5,"y2":0.5,"v":85},{"x":4.4,"x2":2.9,"y":1.5,"y2":0.5,"v":75},{"x":2.9,"x2":1.4,"y":1.5,"y2":0.5,"v":95},{"x":1.4,"x2":0.4,"y":1.5,"y2":0.5,"v":110},{"x":0.4,"x2":-1.6,"y":1.5,"y2":0.5,"v":95},{"x":-1.6,"x2":-3.1,"y":1.5,"y2":0.5,"v":100},{"x":-3.1,"x2":-4.1,"y":1.5,"y2":0.5,"v":125},{"x":-4.1,"x2":-5.6,"y":1.5,"y2":0.5,"v":165},{"x":-5.6,"x2":-6.1,"y":1,"y2":0.5,"v":200},
{"x":10.4,"x2":9.4,"y":0.5,"y2":-0.5,"v":230},{"x":9.4,"x2":8.4,"y":0.5,"y2":-0.5,"v":210},{"x":8.4,"x2":7.4,"y":0.5,"y2":-0.5,"v":165},{"x":7.4,"x2":6.4,"y":0.5,"y2":-0.5,"v":145},{"x":6.4,"x2":5.4,"y":0.5,"y2":-0.5,"v":125},{"x":5.4,"x2":4.4,"y":0.5,"y2":-0.5,"v":105},{"x":4.4,"x2":2.4,"y":0.5,"y2":-0.5,"v":95},{"x":2.4,"x2":1.4,"y":0.5,"y2":-0.5,"v":100},{"x":1.4,"x2":0.4,"y":0.5,"y2":-0.5,"v":90},{"x":0.4,"x2":-0.6,"y":0.5,"y2":-0.5,"v":75},{"x":-0.6,"x2":-2.6,"y":0.5,"y2":-0.5,"v":60},{"x":-2.6,"x2":-3.6,"y":0.5,"y2":-0.5,"v":70},{"x":-3.6,"x2":-4.6,"y":0.5,"y2":-0.5,"v":85},{"x":-4.6,"x2":-5.6,"y":0.5,"y2":-0.5,"v":105},{"x":-5.6,"x2":-6.6,"y":0.5,"y2":-0.5,"v":135},
{"x":7.4,"x2":6.4,"y":-0.5,"y2":-1.2,"v":200},{"x":6.4,"x2":5.4,"y":-0.5,"y2":-1.2,"v":235},{"x":5.4,"x2":4.4,"y":-0.5,"y2":-1.5,"v":180},{"x":4.4,"x2":3.4,"y":-0.5,"y2":-1.5,"v":120},{"x":3.4,"x2":1.9,"y":-0.5,"y2":-1.5,"v":110},{"x":1.9,"x2":0.9,"y":-0.5,"y2":-1.5,"v":95},{"x":0.9,"x2":-0.1,"y":-0.5,"y2":-1.5,"v":80},{"x":-0.1,"x2":-1.1,"y":-0.5,"y2":-1.5,"v":65},{"x":-1.1,"x2":-2.6,"y":-0.5,"y2":-1.5,"v":50},{"x":-2.6,"x2":-3.6,"y":-0.5,"y2":-1.5,"v":60},{"x":-3.6,"x2":-4.6,"y":-0.5,"y2":-1.5,"v":75},{"x":-4.6,"x2":-5.6,"y":-0.5,"y2":-1.5,"v":95},{"x":-5.6,"x2":-6.6,"y":-0.5,"y2":-1.5,"v":115},{"x":-6.6,"x2":-7.2,"y":-0.5,"y2":-1.5,"v":125},
{"x":3.4,"x2":2.4,"y":-1.5,"y2":-2.5,"v":135},{"x":2.4,"x2":1.4,"y":-1.5,"y2":-2.5,"v":110},{"x":1.4,"x2":0.4,"y":-1.5,"y2":-2.5,"v":90},{"x":0.4,"x2":-0.6,"y":-1.5,"y2":-2.5,"v":70},{"x":-0.6,"x2":-1.6,"y":-1.5,"y2":-2.5,"v":55},{"x":-1.6,"x2":-4.1,"y":-1.5,"y2":-2.5,"v":50},{"x":-4.1,"x2":-5.1,"y":-1.5,"y2":-2.5,"v":65},{"x":-5.1,"x2":-6.1,"y":-1.5,"y2":-2.5,"v":85},{"x":-6.1,"x2":-7.2,"y":-1.5,"y2":-2.5,"v":120},
{"x":2,"x2":1.4,"y":-2.5,"y2":-3.5,"v":130},{"x":1.4,"x2":0.4,"y":-2.5,"y2":-3.5,"v":110},{"x":0.4,"x2":-0.6,"y":-2.5,"y2":-3.5,"v":80},{"x":-0.6,"x2":-1.6,"y":-2.5,"y2":-3.5,"v":60},{"x":-1.6,"x2":-4.1,"y":-2.5,"y2":-3.5,"v":55},{"x":-4.1,"x2":-5.1,"y":-2.5,"y2":-3.5,"v":65},{"x":-5.1,"x2":-6.1,"y":-2.5,"y2":-3.5,"v":85},{"x":-6.1,"x2":-7.2,"y":-2.5,"y2":-3.5,"v":125},
{"x":0.9,"x2":-0.1,"y":-3.5,"y2":-4.5,"v":100},{"x":-0.1,"x2":-1.1,"y":-3.5,"y2":-4.5,"v":80},{"x":-1.1,"x2":-2.6,"y":-3.5,"y2":-4.5,"v":70},{"x":-2.6,"x2":-4.6,"y":-3.5,"y2":-4.5,"v":65},{"x":-4.6,"x2":-5.6,"y":-3.5,"y2":-4.5,"v":85},{"x":-5.6,"x2":-6.6,"y":-3.5,"y2":-4.5,"v":110},{"x":-6.6,"x2":-7.2,"y":-3.5,"y2":-4.5,"v":130},
{"x":-0.4,"x2":-1.1,"y":-4.5,"y2":-5.5,"v":100},{"x":-1.1,"x2":-2.6,"y":-4.5,"y2":-5.5,"v":90},{"x":-2.6,"x2":-3.6,"y":-4.5,"y2":-5.5,"v":85},{"x":-3.6,"x2":-5.1,"y":-4.5,"y2":-5.5,"v":80},{"x":-5.1,"x2":-6.1,"y":-4.5,"y2":-5.5,"v":105},{"x":-6.1,"x2":-7.2,"y":-4.5,"y2":-5.5,"v":140},
{"x":-1.1,"x2":-2.6,"y":-5.5,"y2":-6.5,"v":130},{"x":-2.6,"x2":-4.6,"y":-5.5,"y2":-6.5,"v":115},{"x":-4.6,"x2":-5.6,"y":-5.5,"y2":-6.5,"v":120},{"x":-5.6,"x2":-6.6,"y":-5.5,"y2":-6.5,"v":135},{"x":-6.6,"x2":-7.2,"y":-5.5,"y2":-6.5,"v":150},
{"x":-1.6,"x2":-2.6,"y":-6.5,"y2":-7.5,"v":160},{"x":-2.6,"x2":-4.6,"y":-6.5,"y2":-7.5,"v":145},{"x":-4.6,"x2":-6.2,"y":-6.5,"y2":-7.5,"v":160},
{"x":-2.6,"x2":-3.6,"y":-7.5,"y2":-8,"v":175},{"x":-3.6,"x2":-6.2,"y":-7.5,"y2":-8,"v":180},{"x":-3.6,"x2":-5.6,"y":-8,"y2":-8.5,"v":185},
{"x":-11.6,"x2":-12.1,"y":0.5,"y2":-0.5,"v":85},{"x":-12.1,"x2":-13.1,"y":0.5,"y2":-0.5,"v":105},
{"x":-11.1,"x2":-12.1,"y":-0.5,"y2":-1.5,"v":65},{"x":-12.1,"x2":-13.1,"y":-0.5,"y2":-1.5,"v":100},{"x":-13.1,"x2":-14.1,"y":-0.5,"y2":-1.5,"v":120},
{"x":-11.1,"x2":-12.1,"y":-1.5,"y2":-2.5,"v":60},{"x":-12.1,"x2":-13.1,"y":-1.5,"y2":-2.5,"v":95},{"x":-13.1,"x2":-13.6,"y":-1.5,"y2":-2.5,"v":120},{"x":-13.6,"x2":-14.6,"y":-1.5,"y2":-2.5,"v":165},
{"x":-11.1,"x2":-12.1,"y":-2.5,"y2":-3.5,"v":60},{"x":-12.1,"x2":-13.1,"y":-2.5,"y2":-3.5,"v":95},{"x":-13.1,"x2":-13.6,"y":-2.5,"y2":-3.5,"v":115},{"x":-13.6,"x2":-14.6,"y":-2.5,"y2":-3.5,"v":170},{"x":-14.6,"x2":-15,"y":-2.5,"y2":-3.5,"v":225},
{"x":-11.1,"x2":-12.1,"y":-3.5,"y2":-4.5,"v":75},{"x":-12.1,"x2":-13.1,"y":-3.5,"y2":-4.5,"v":100},{"x":-13.1,"x2":-13.6,"y":-3.5,"y2":-4.5,"v":115},{"x":-13.6,"x2":-14.6,"y":-3.5,"y2":-4.5,"v":140},{"x":-14.6,"x2":-15,"y":-3.5,"y2":-4.5,"v":175},
{"x":-12.6,"x2":-13.6,"y":-4.5,"y2":-5.5,"v":85},{"x":-13.6,"x2":-14.6,"y":-4.5,"y2":-5.5,"v":130},{"x":-14.6,"x2":-15,"y":-4.5,"y2":-5.5,"v":155},{"x":-14.1,"x2":-15,"y":-5.5,"y2":-6,"v":120}
],
"f":[
{"x":12.4,"x2":11.4,"y":9.5,"y2":8.5,"v":75},{"x":11.4,"x2":10.9,"y":9.5,"y2":8.5,"v":105},{"x":10.9,"x2":9.9,"y":9.5,"y2":8.5,"v":175},{"x":9.9,"x2":9.4,"y":9.5,"y2":8.5,"v":195},{"x":9.4,"x2":8.4,"y":9,"y2":8.5,"v":120},
{"x":13.9,"x2":12.9,"y":8.5,"y2":7.5,"v":70},{"x":12.9,"x2":11.4,"y":8.5,"y2":7.5,"v":90},{"x":11.4,"x2":10.9,"y":8.5,"y2":7.5,"v":155},{"x":10.9,"x2":9.9,"y":8.5,"y2":7.5,"v":175},{"x":9.9,"x2":9.4,"y":8.5,"y2":7.5,"v":165},{"x":9.4,"x2":8.4,"y":8.5,"y2":7.5,"v":120},{"x":8.4,"x2":7.4,"y":8,"y2":7.5,"v":85},{"x":7.4,"x2":5.9,"y":8,"y2":7.5,"v":40},{"x":5.9,"x2":5.4,"y":8,"y2":7.5,"v":80},{"x":5.4,"x2":4.4,"y":8,"y2":7.5,"v":95},{"x":4.4,"x2":3.4,"y":8,"y2":7.5,"v":120},{"x":3.4,"x2":2.4,"y":8.5,"y2":7.5,"v":195},{"x":2.4,"x2":1.4,"y":8.5,"y2":7.5,"v":215},
{"x":14.4,"x2":13.4,"y":7.5,"y2":6.5,"v":95},{"x":13.4,"x2":12.4,"y":7.5,"y2":6.5,"v":110},{"x":12.4,"x2":11.4,"y":7.5,"y2":6.5,"v":125},{"x":11.4,"x2":9.9,"y":7.5,"y2":6.5,"v":170},{"x":9.9,"x2":8.9,"y":7.5,"y2":6.5,"v":145},{"x":8.9,"x2":7.9,"y":7.5,"y2":6.5,"v":130},{"x":7.9,"x2":5.9,"y":7.5,"y2":6.5,"v":85},{"x":5.9,"x2":4.9,"y":7.5,"y2":6.5,"v":105},{"x":4.9,"x2":3.9,"y":7.5,"y2":6.5,"v":90},{"x":3.9,"x2":3.4,"y":7.5,"y2":6.5,"v":135},{"x":3.4,"x2":2.4,"y":7.5,"y2":6.5,"v":190},{"x":2.4,"x2":1.2,"y":7.5,"y2":6.5,"v":215},
{"x":14.9,"x2":14.4,"y":6.5,"y2":5.5,"v":60},{"x":14.4,"x2":13.4,"y":6.5,"y2":5.5,"v":110},{"x":13.4,"x2":12.4,"y":6.5,"y2":5.5,"v":150},{"x":12.4,"x2":10.9,"y":6.5,"y2":5.5,"v":165},{"x":10.9,"x2":9.4,"y":6.5,"y2":5.5,"v":170},{"x":9.4,"x2":8.4,"y":6.5,"y2":5.5,"v":130},{"x":8.4,"x2":7.4,"y":6.5,"y2":5.5,"v":125},{"x":7.4,"x2":6.4,"y":6.5,"y2":5.5,"v":135},{"x":6.4,"x2":5.4,"y":6.5,"y2":5.5,"v":140},{"x":5.4,"x2":4.4,"y":6.5,"y2":5.5,"v":120},{"x":4.4,"x2":3.4,"y":6.5,"y2":5.5,"v":110},{"x":3.4,"x2":2.4,"y":6.5,"y2":5.5,"v":185},{"x":2.4,"x2":1.4,"y":6.5,"y2":5.5,"v":205},{"x":1.4,"x2":0.4,"y":6.5,"y2":5.5,"v":225},
{"x":15.4,"x2":14.4,"y":5.5,"y2":4.5,"v":115},{"x":14.4,"x2":13.4,"y":5.5,"y2":4.5,"v":150},{"x":13.4,"x2":9.4,"y":5.5,"y2":4.5,"v":170},{"x":9.4,"x2":8.4,"y":5.5,"y2":4.5,"v":140},{"x":8.4,"x2":6.9,"y":5.5,"y2":4.5,"v":125},{"x":6.9,"x2":5.4,"y":5.5,"y2":4.5,"v":145},{"x":5.4,"x2":2.9,"y":5.5,"y2":4.5,"v":125},{"x":2.9,"x2":1.9,"y":5.5,"y2":4.5,"v":170},{"x":1.9,"x2":0.4,"y":5.5,"y2":4.5,"v":195},{"x":0.4,"x2":-0.6,"y":5.5,"y2":4.5,"v":175},{"x":-0.6,"x2":-1.6,"y":5.5,"y2":4.5,"v":190},
{"x":15.4,"x2":14.9,"y":4.5,"y2":3.5,"v":130},{"x":14.9,"x2":13.9,"y":4.5,"y2":3.5,"v":175},{"x":13.9,"x2":12.4,"y":4.5,"y2":3.5,"v":195},{"x":12.4,"x2":11.4,"y":4.5,"y2":3.5,"v":200},{"x":11.4,"x2":9.4,"y":4.5,"y2":3.5,"v":195},{"x":9.4,"x2":8.4,"y":4.5,"y2":3.5,"v":165},{"x":8.4,"x2":6.9,"y":4.5,"y2":3.5,"v":128},{"x":6.9,"x2":5.4,"y":4.5,"y2":3.5,"v":150},{"x":5.4,"x2":2.9,"y":4.5,"y2":3.5,"v":122},{"x":2.9,"x2":1.9,"y":4.5,"y2":3.5,"v":150},{"x":1.9,"x2":0.9,"y":4.5,"y2":3.5,"v":165},{"x":0.9,"x2":-0.1,"y":4.5,"y2":3.5,"v":170},{"x":-0.1,"x2":-1.4,"y":4.5,"y2":3.5,"v":215},{"x":-1.4,"x2":-3.6,"y":4,"y2":3.5,"v":230},
{"x":14.9,"x2":13.4,"y":3.5,"y2":2.5,"v":205},{"x":13.4,"x2":11.4,"y":3.5,"y2":2.5,"v":225},{"x":11.4,"x2":10.4,"y":3.5,"y2":2.5,"v":200},{"x":10.4,"x2":9.4,"y":3.5,"y2":2.5,"v":210},{"x":9.4,"x2":8.4,"y":3.5,"y2":2.5,"v":190},{"x":8.4,"x2":7.4,"y":3.5,"y2":2.5,"v":160},{"x":7.4,"x2":5.9,"y":3.5,"y2":2.5,"v":155},{"x":5.9,"x2":2.4,"y":3.5,"y2":2.5,"v":122},{"x":2.4,"x2":0.9,"y":3.5,"y2":2.5,"v":115},{"x":0.9,"x2":-0.1,"y":3.5,"y2":2.5,"v":155},{"x":-0.1,"x2":-1.6,"y":3.5,"y2":2.5,"v":185},{"x":-1.6,"x2":-2.6,"y":3.5,"y2":2.5,"v":215},{"x":-2.6,"x2":-4.6,"y":3.5,"y2":2.5,"v":190},
{"x":14.4,"x2":12.9,"y":2.5,"y2":1.5,"v":235},{"x":12.9,"x2":11.9,"y":2.5,"y2":1.5,"v":225},{"x":11.9,"x2":10.4,"y":2.5,"y2":1.5,"v":210},{"x":10.4,"x2":9.4,"y":2.5,"y2":1.5,"v":225},{"x":9.4,"x2":8.4,"y":2.5,"y2":1.5,"v":200},{"x":8.4,"x2":7.4,"y":2.5,"y2":1.5,"v":175},{"x":7.4,"x2":5.9,"y":2.5,"y2":1.5,"v":160},{"x":5.9,"x2":4.4,"y":2.5,"y2":1.5,"v":135},{"x":4.4,"x2":3.4,"y":2.5,"y2":1.5,"v":115},{"x":3.4,"x2":1.4,"y":2.5,"y2":1.5,"v":125},{"x":1.4,"x2":0.4,"y":2.5,"y2":1.5,"v":150},{"x":0.4,"x2":-0.6,"y":2.5,"y2":1.5,"v":165},{"x":-0.6,"x2":-1.6,"y":2.5,"y2":1.5,"v":185},{"x":-1.6,"x2":-3.1,"y":2.5,"y2":1.5,"v":225},{"x":-3.1,"x2":-5.1,"y":2.5,"y2":1.5,"v":190},
{"x":14.4,"x2":11.9,"y":1.5,"y2":1.2,"v":240},{"x":11.9,"x2":10.4,"y":1.5,"y2":0.5,"v":220},{"x":10.4,"x2":9.4,"y":1.5,"y2":0.5,"v":225},{"x":9.4,"x2":8.4,"y":1.5,"y2":0.5,"v":235},{"x":8.4,"x2":7.4,"y":1.5,"y2":0.5,"v":210},{"x":7.4,"x2":6.4,"y":1.5,"y2":0.5,"v":185},{"x":6.4,"x2":5.4,"y":1.5,"y2":0.5,"v":170},{"x":5.4,"x2":3.4,"y":1.5,"y2":0.5,"v":150},{"x":3.4,"x2":2.4,"y":1.5,"y2":0.5,"v":155},{"x":2.4,"x2":0.4,"y":1.5,"y2":0.5,"v":170},{"x":0.4,"x2":-0.6,"y":1.5,"y2":0.5,"v":175},{"x":-0.6,"x2":-2.6,"y":1.5,"y2":0.5,"v":160},{"x":-2.6,"x2":-3.6,"y":1.5,"y2":0.5,"v":170},{"x":-3.6,"x2":-6,"y":1.5,"y2":0.5,"v":190},
{"x":8.4,"x2":7.4,"y":0.5,"y2":-0.5,"v":235},{"x":7.4,"x2":6.4,"y":0.5,"y2":-0.5,"v":215},{"x":6.4,"x2":5.4,"y":0.5,"y2":-0.5,"v":205},{"x":5.4,"x2":3.4,"y":0.5,"y2":-0.5,"v":190},{"x":3.4,"x2":1.4,"y":0.5,"y2":-0.5,"v":175},{"x":1.4,"x2":0.4,"y":0.5,"y2":-0.5,"v":165},{"x":0.4,"x2":-0.6,"y":0.5,"y2":-0.5,"v":145},{"x":-0.6,"x2":-2.6,"y":0.5,"y2":-0.5,"v":130},{"x":-2.6,"x2":-3.6,"y":0.5,"y2":-0.5,"v":140},{"x":-3.6,"x2":-4.6,"y":0.5,"y2":-0.5,"v":170},{"x":-4.6,"x2":-5.6,"y":0.5,"y2":-0.5,"v":195},{"x":-5.6,"x2":-6.6,"y":0.5,"y2":-0.5,"v":205},
{"x":6.4,"x2":4.4,"y":-0.5,"y2":-1,"v":230},{"x":4.4,"x2":3.4,"y":-0.5,"y2":-1.5,"v":195},{"x":3.4,"x2":2.4,"y":-0.5,"y2":-1.5,"v":180},{"x":2.4,"x2":1.4,"y":-0.5,"y2":-1.5,"v":175},{"x":1.4,"x2":0.4,"y":-0.5,"y2":-1.5,"v":145},{"x":0.4,"x2":-0.6,"y":-0.5,"y2":-1.5,"v":120},{"x":-0.6,"x2":-1.6,"y":-0.5,"y2":-1.5,"v":125},{"x":-1.6,"x2":-3.6,"y":-0.5,"y2":-1.5,"v":115},{"x":-3.6,"x2":-4.6,"y":-0.5,"y2":-1.5,"v":140},{"x":-4.6,"x2":-5.6,"y":-0.5,"y2":-1.5,"v":170},{"x":-5.6,"x2":-6.6,"y":-0.5,"y2":-1.5,"v":200},{"x":-6.6,"x2":-7.2,"y":-0.5,"y2":-1.5,"v":110},
{"x":3.6,"x2":2.4,"y":-1.5,"y2":-2.5,"v":170},{"x":2.4,"x2":1.4,"y":-1.5,"y2":-2.5,"v":160},{"x":1.4,"x2":0.4,"y":-1.5,"y2":-2.5,"v":110},{"x":0.4,"x2":-0.6,"y":-1.5,"y2":-2.5,"v":70},{"x":-0.6,"x2":-1.6,"y":-1.5,"y2":-2.5,"v":125},{"x":-1.6,"x2":-2.6,"y":-1.5,"y2":-2.5,"v":110},{"x":-2.6,"x2":-4.6,"y":-1.5,"y2":-2.5,"v":85},{"x":-4.6,"x2":-5.6,"y":-1.5,"y2":-2.5,"v":150},{"x":-5.6,"x2":-6.6,"y":-1.5,"y2":-2.5,"v":180},{"x":-6.6,"x2":-7.2,"y":-1.5,"y2":-2.5,"v":120},
{"x":2.1,"x2":1.4,"y":-2.5,"y2":-3.5,"v":165},{"x":1.4,"x2":0.4,"y":-2.5,"y2":-3.5,"v":100},{"x":0.4,"x2":-0.6,"y":-2.5,"y2":-3.5,"v":50},{"x":-0.6,"x2":-1.1,"y":-2.5,"y2":-3.5,"v":110},{"x":-1.1,"x2":-2.6,"y":-2.5,"y2":-3.5,"v":155},{"x":-2.6,"x2":-3.6,"y":-2.5,"y2":-3.5,"v":100},{"x":-3.6,"x2":-4.6,"y":-2.5,"y2":-3.5,"v":95},{"x":-4.6,"x2":-5.6,"y":-2.5,"y2":-3.5,"v":155},{"x":-5.6,"x2":-6.6,"y":-2.5,"y2":-3.5,"v":185},{"x":-6.6,"x2":-7.2,"y":-2.5,"y2":-3.5,"v":140},
{"x":0.6,"x2":-0.6,"y":-3.5,"y2":-4.5,"v":60},{"x":-0.6,"x2":-1.1,"y":-3.5,"y2":-4.5,"v":135},{"x":-1.1,"x2":-2.6,"y":-3.5,"y2":-4.5,"v":165},{"x":-2.6,"x2":-3.6,"y":-3.5,"y2":-4.5,"v":125},{"x":-3.6,"x2":-4.6,"y":-3.5,"y2":-4.5,"v":115},{"x":-4.6,"x2":-5.6,"y":-3.5,"y2":-4.5,"v":160},{"x":-5.6,"x2":-6.6,"y":-3.5,"y2":-4.5,"v":195},{"x":-6.6,"x2":-7.2,"y":-3.5,"y2":-4.5,"v":180},
{"x":-0.4,"x2":-0.9,"y":-4.5,"y2":-5.5,"v":95},{"x":-0.9,"x2":-1.6,"y":-4.5,"y2":-5.5,"v":170},{"x":-1.6,"x2":-2.6,"y":-4.5,"y2":-5.5,"v":195},{"x":-2.6,"x2":-3.6,"y":-4.5,"y2":-5.5,"v":175},{"x":-3.6,"x2":-4.6,"y":-4.5,"y2":-5.5,"v":165},{"x":-4.6,"x2":-5.6,"y":-4.5,"y2":-5.5,"v":175},{"x":-5.6,"x2":-6.1,"y":-4.5,"y2":-5.5,"v":205},{"x":-6.1,"x2":-7.2,"y":-4.5,"y2":-5.5,"v":225},
{"x":-1.1,"x2":-1.6,"y":-5.5,"y2":-6.5,"v":175},{"x":-1.6,"x2":-3.1,"y":-5.5,"y2":-6.5,"v":190},{"x":-3.1,"x2":-4.1,"y":-5.5,"y2":-6.5,"v":195},{"x":-4.1,"x2":-5.6,"y":-5.5,"y2":-6.5,"v":205},{"x":-5.6,"x2":-7.2,"y":-5.5,"y2":-6.5,"v":230},
{"x":-1.9,"x2":-3.1,"y":-6.5,"y2":-7.5,"v":175},{"x":-3.1,"x2":-4.6,"y":-6.5,"y2":-7.5,"v":210},{"x":-4.6,"x2":-6.2,"y":-6.5,"y2":-7.5,"v":225},
{"x":-2.9,"x2":-3.6,"y":-7.5,"y2":-8,"v":205},{"x":-3.6,"x2":-6.2,"y":-7.5,"y2":-8,"v":225},{"x":-3.9,"x2":-5.6,"y":-8,"y2":-8.5,"v":235},
{"x":-11.7,"x2":-12.2,"y":0.5,"y2":-0.5,"v":165},{"x":-12.2,"x2":-13.2,"y":0.5,"y2":-0.5,"v":195},
{"x":-11.2,"x2":-11.7,"y":-0.5,"y2":-1.5,"v":60},{"x":-11.7,"x2":-12.2,"y":-0.5,"y2":-1.5,"v":115},{"x":-12.2,"x2":-13.2,"y":-0.5,"y2":-1.5,"v":170},{"x":-13.2,"x2":-14,"y":-0.5,"y2":-1.5,"v":195},
{"x":-11.2,"x2":-11.7,"y":-1.5,"y2":-2.5,"v":50},{"x":-11.7,"x2":-12.2,"y":-1.5,"y2":-2.5,"v":110},{"x":-12.2,"x2":-13.2,"y":-1.5,"y2":-2.5,"v":165},{"x":-13.2,"x2":-14,"y":-1.5,"y2":-2.5,"v":210},{"x":-14,"x2":-14.6,"y":-1.5,"y2":-2.5,"v":195},
{"x":-11.2,"x2":-11.7,"y":-2.5,"y2":-3.5,"v":50},{"x":-11.7,"x2":-12.2,"y":-2.5,"y2":-3.5,"v":115},{"x":-12.2,"x2":-13.2,"y":-2.5,"y2":-3.5,"v":165},{"x":-13.2,"x2":-13.7,"y":-2.5,"y2":-3.5,"v":205},{"x":-13.7,"x2":-15,"y":-2.5,"y2":-3.5,"v":220},
{"x":-11.2,"x2":-11.7,"y":-3.5,"y2":-4.5,"v":60},{"x":-11.7,"x2":-12.2,"y":-3.5,"y2":-4.5,"v":130},{"x":-12.2,"x2":-13.2,"y":-3.5,"y2":-4.5,"v":165},{"x":-13.2,"x2":-14,"y":-3.5,"y2":-4.5,"v":205},{"x":-14,"x2":-15,"y":-3.5,"y2":-4.5,"v":220},
{"x":-11.7,"x2":-12.2,"y":-4.5,"y2":-5.5,"v":130},{"x":-12.2,"x2":-13.2,"y":-4.5,"y2":-5.5,"v":165},{"x":-13.2,"x2":-14,"y":-4.5,"y2":-5.5,"v":205},{"x":-14,"x2":-15,"y":-4.5,"y2":-5.5,"v":220},{"x":-13.7,"x2":-15,"y":-5.5,"y2":-6,"v":205}
],
"lt":[
{"c":1,"x":12.7,"y":7.5},{"c":1,"x":12.4,"y":8},{"c":1,"x":11.9,"y":8},{"c":1,"x":11.7,"y":7},{"c":1,"x":11.4,"y":6.3},{"c":1,"x":11.4,"y":6},{"c":1,"x":11.9,"y":5.8},{"c":1,"x":12.3,"y":6.5},{"c":1,"x":12.7,"y":7.1},{"c":1,"x":12.7,"y":7.5},
{"c":2,"x":11.4,"y":9},{"c":2,"x":10.8,"y":8},{"c":2,"x":10.4,"y":7.7},{"c":2,"x":10,"y":8.4},{"c":2,"x":9.3,"y":9},
{"c":3,"x":9.45,"y":6.5},{"c":3,"x":9.2,"y":7.5},{"c":3,"x":8.7,"y":7.7},{"c":3,"x":8,"y":7.1},{"c":3,"x":7,"y":7.6},{"c":3,"x":6.35,"y":7.5},{"c":3,"x":6,"y":6.3},{"c":3,"x":5.1,"y":6.85},{"c":3,"x":4.5,"y":7.1},{"c":3,"x":3.85,"y":6.35},{"c":3,"x":3.1,"y":5.2},{"c":3,"x":2.1,"y":3.7},{"c":3,"x":1.55,"y":3.1},{"c":3,"x":2,"y":2.2},{"c":3,"x":2.4,"y":1.45},{"c":3,"x":3.35,"y":1.4},{"c":3,"x":4.6,"y":1.95},{"c":3,"x":5.85,"y":2.65},{"c":3,"x":6.5,"y":2.9},{"c":3,"x":7.35,"y":2.55},{"c":3,"x":8.1,"y":2.95},{"c":3,"x":8.85,"y":4.2},{"c":3,"x":9.3,"y":5.35},{"c":3,"x":9.45,"y":6.5},
{"c":4,"x":5.15,"y":4.45},{"c":4,"x":4.85,"y":5.35},{"c":4,"x":4.35,"y":5.6},{"c":4,"x":3.75,"y":5.1},{"c":4,"x":3.1,"y":4.1},{"c":4,"x":2.95,"y":3.1},{"c":4,"x":3.5,"y":2.6},{"c":4,"x":4.1,"y":2.4},{"c":4,"x":4.7,"y":2.95},{"c":4,"x":5.15,"y":4.1},{"c":4,"x":5.15,"y":4.45},
{"c":5,"x":15.4,"y":5},{"c":5,"x":14.9,"y":4.4},{"c":5,"x":13.9,"y":4.4},{"c":5,"x":12.95,"y":4.9},{"c":5,"x":11.6,"y":3.85},{"c":5,"x":10,"y":4.25},{"c":5,"x":9,"y":3.05},{"c":5,"x":7.4,"y":1.25},{"c":5,"x":6.6,"y":1.5},{"c":5,"x":4.35,"y":0.8},{"c":5,"x":3,"y":-0.05},{"c":5,"x":2.1,"y":-0.2},{"c":5,"x":1.6,"y":-1.55},{"c":5,"x":1.2,"y":-3.05},
{"c":6,"x":14.9,"y":2.7},{"c":6,"x":13.9,"y":2.65},{"c":6,"x":13,"y":3.3},{"c":6,"x":11.45,"y":1.95},{"c":6,"x":9.6,"y":1.95},{"c":6,"x":8.6,"y":1.05},{"c":6,"x":7.6,"y":0.05},{"c":6,"x":5.85,"y":0.2},{"c":6,"x":4.85,"y":-0.2},{"c":6,"x":4.5,"y":-1},
{"c":7,"x":3.75,"y":8},{"c":7,"x":3,"y":6.75},{"c":7,"x":1.85,"y":5.6},{"c":7,"x":0.85,"y":5.1},{"c":7,"x":0.35,"y":5.45},
{"c":8,"x":-0.85,"y":5},{"c":8,"x":-1.25,"y":3.6},{"c":8,"x":-0.6,"y":2.05},{"c":8,"x":-0.1,"y":1.3},{"c":8,"x":0.75,"y":0.95},{"c":8,"x":-0.35,"y":0.95},{"c":8,"x":-1.35,"y":1.45},{"c":8,"x":-2.85,"y":1.45},{"c":8,"x":-4.35,"y":0.45},{"c":8,"x":-5.35,"y":-0.7},{"c":8,"x":-6.2,"y":-1.7},{"c":8,"x":-7.05,"y":-1.95},
{"c":9,"x":-2.7,"y":3.95},{"c":9,"x":-3,"y":3.35},{"c":9,"x":-3.7,"y":3.35},{"c":9,"x":-4.35,"y":2.55},{"c":9,"x":-4.6,"y":1.95},
{"c":10,"x":0.75,"y":-1.3},{"c":10,"x":0.25,"y":-0.3},{"c":10,"x":-0.6,"y":0.45},{"c":10,"x":-1.85,"y":0.55},{"c":10,"x":-3.35,"y":0.2},{"c":10,"x":-4.6,"y":-0.85},{"c":10,"x":-5.6,"y":-2.6},{"c":10,"x":-5.7,"y":-3.6},{"c":10,"x":-5.1,"y":-4.85},{"c":10,"x":-3.85,"y":-5.25},{"c":10,"x":-2.1,"y":-4.75},{"c":10,"x":-0.6,"y":-4.1},{"c":10,"x":0.35,"y":-3.1},{"c":10,"x":0.75,"y":-2.1},{"c":10,"x":0.75,"y":-1.3},
{"c":11,"x":-0.3,"y":-2.1},{"c":11,"x":-0.35,"y":-1.45},{"c":11,"x":-1.1,"y":-0.55},{"c":11,"x":-1.85,"y":-0.4},{"c":11,"x":-3.35,"y":-0.85},{"c":11,"x":-4.6,"y":-1.6},{"c":11,"x":-5.05,"y":-2.7},{"c":11,"x":-5,"y":-3.85},{"c":11,"x":-4.35,"y":-4.35},{"c":11,"x":-3.1,"y":-4.1},{"c":11,"x":-1.6,"y":-3.5},{"c":11,"x":-0.6,"y":-2.7},{"c":11,"x":-0.3,"y":-2.1},
{"c":12,"x":-3.3,"y":-2.6},{"c":12,"x":-3.5,"y":-2.3},{"c":12,"x":-4,"y":-2.35},{"c":12,"x":-4.15,"y":-2.95},{"c":12,"x":-3.85,"y":-3.2},{"c":12,"x":-3.4,"y":-3.05},{"c":12,"x":-3.3,"y":-2.6},
{"c":13,"x":-1.55,"y":-6.05},{"c":13,"x":-2.85,"y":-6.3},{"c":13,"x":-5.1,"y":-6},{"c":13,"x":-6.1,"y":-4.35},{"c":13,"x":-7,"y":-3.65},
{"c":14,"x":-3.06,"y":-8},{"c":14,"x":-4.1,"y":-7.5},{"c":14,"x":-5.7,"y":-7.6},{"c":14,"x":-6.35,"y":-6.35},{"c":14,"x":-6.8,"y":-6},
{"c":15,"x":-11.95,"y":-0.85},{"c":15,"x":-12.55,"y":-1.6},{"c":15,"x":-12.8,"y":-2.85},{"c":15,"x":-12.35,"y":-4.5},
{"c":16,"x":-15,"y":-2.95},{"c":16,"x":-14.65,"y":-3.7},{"c":16,"x":-15,"y":-4.85}
],
"ln":[
{"c":1,"x":14.95,"y":5.75},{"c":1,"x":13.95,"y":7.5},{"c":1,"x":12.45,"y":8.55},{"c":1,"x":11.35,"y":9.55},
{"c":2,"x":15.05,"y":4},{"c":2,"x":14.3,"y":5.6},{"c":2,"x":13.2,"y":6.75},{"c":2,"x":11.6,"y":7.85},{"c":2,"x":10,"y":8.7},{"c":2,"x":8.85,"y":7.1},{"c":2,"x":7.85,"y":6},{"c":2,"x":7,"y":4.6},{"c":2,"x":5.6,"y":5.45},{"c":2,"x":3.9,"y":6.1},{"c":2,"x":3.25,"y":7.95},
{"c":3,"x":9.2,"y":9},{"c":3,"x":8.1,"y":8},{"c":3,"x":7,"y":6.95},{"c":3,"x":5.6,"y":7.2},{"c":3,"x":4.4,"y":7.25},{"c":3,"x":3.9,"y":8},
{"c":4,"x":14.5,"y":2.7},{"c":4,"x":13.85,"y":4.6},{"c":4,"x":12.85,"y":5.7},{"c":4,"x":11.45,"y":6.1},{"c":4,"x":10.75,"y":5.6},{"c":4,"x":10,"y":3.95},{"c":4,"x":9.1,"y":2.45},{"c":4,"x":8.1,"y":1.3},{"c":4,"x":7.1,"y":0.2},{"c":4,"x":5.75,"y":-0.95},
{"c":5,"x":14.45,"y":1.95},{"c":5,"x":14.2,"y":1.45},
{"c":6,"x":13.6,"y":1.45},{"c":6,"x":13.45,"y":2.55},{"c":6,"x":12.85,"y":2.75},{"c":6,"x":12.35,"y":2.55},{"c":6,"x":11.35,"y":3.25},{"c":6,"x":10.45,"y":2.55},{"c":6,"x":10,"y":1.55},{"c":6,"x":9.1,"y":1.05},{"c":6,"x":8.25,"y":0.55},{"c":6,"x":7.25,"y":-0.05},
{"c":7,"x":5.1,"y":-1},{"c":7,"x":5.35,"y":0.7},{"c":7,"x":5,"y":1.95},{"c":7,"x":4.4,"y":2.2},{"c":7,"x":3.5,"y":1.45},{"c":7,"x":2.75,"y":-0.05},{"c":7,"x":1.9,"y":-1.3},{"c":7,"x":0.65,"y":-1.7},{"c":7,"x":-0.35,"y":-2.7},{"c":7,"x":-0.95,"y":-4.1},{"c":7,"x":-1.7,"y":-5.85},{"c":7,"x":-2.6,"y":-7.4},{"c":7,"x":-3.1,"y":-8},
{"c":8,"x":2.5,"y":8.25},{"c":8,"x":2.9,"y":5.7},{"c":8,"x":2.75,"y":2.7},{"c":8,"x":2,"y":0.7},{"c":8,"x":0.65,"y":-0.45},{"c":8,"x":-0.35,"y":-0.85},{"c":8,"x":-1.2,"y":-2.1},{"c":8,"x":-1.85,"y":-3.85},{"c":8,"x":-2.6,"y":-5.6},{"c":8,"x":-3.35,"y":-7.35},{"c":8,"x":-3.55,"y":-8},
{"c":10,"x":1.5,"y":5.85},{"c":10,"x":1.35,"y":4.95},{"c":10,"x":1.55,"y":4.45},{"c":10,"x":1.35,"y":3.45},{"c":10,"x":1.5,"y":3.95},{"c":10,"x":1.7,"y":4.7},{"c":10,"x":1.45,"y":5.1},{"c":10,"x":1.7,"y":5.6},{"c":10,"x":1.5,"y":5.85},
{"c":11,"x":0.65,"y":5.6},{"c":11,"x":-0.35,"y":3.3},{"c":11,"x":-1.1,"y":3.2},{"c":11,"x":-1.6,"y":3.7},{"c":11,"x":-2.6,"y":2.95},{"c":11,"x":-3.2,"y":1.05},{"c":11,"x":-4.95,"y":-0.3},{"c":11,"x":-5.45,"y":-2.1},{"c":11,"x":-6.2,"y":-5.1},{"c":11,"x":-6.2,"y":-6.35},{"c":11,"x":-5.8,"y":-8},
{"c":12,"x":0.15,"y":5.5},{"c":12,"x":-0.6,"y":4.7},{"c":12,"x":-1.55,"y":4.75},
{"c":13,"x":-3.45,"y":3.5},{"c":13,"x":-4.1,"y":3.1},{"c":13,"x":-3.9,"y":2.6},{"c":13,"x":-4.6,"y":2.6},
{"c":14,"x":-6.2,"y":-0.45},{"c":14,"x":-6.7,"y":-2.6},{"c":14,"x":-7.05,"y":-5.6},
{"c":15,"x":-6.85,"y":-1.55},{"c":15,"x":-7,"y":-2.1},
{"c":16,"x":1.9,"y":-2.7},{"c":16,"x":0.65,"y":-2.85},{"c":16,"x":0,"y":-3.45},{"c":16,"x":-0.35,"y":-3.95},
{"c":17,"x":-4,"y":-8},{"c":17,"x":-3.9,"y":-7.1},{"c":17,"x":-3.1,"y":-5.35},{"c":17,"x":-2.55,"y":-3.85},{"c":17,"x":-2.55,"y":-3.1},{"c":17,"x":-2.85,"y":-2.35},{"c":17,"x":-3.7,"y":-2.05},{"c":17,"x":-4.45,"y":-2.45},{"c":17,"x":-4.9,"y":-3.6},{"c":17,"x":-4.95,"y":-5.6},{"c":17,"x":-4.8,"y":-8},
{"c":18,"x":-11.9,"y":-1.05},{"c":18,"x":-12.05,"y":-3.35},{"c":18,"x":-13.15,"y":-5},
{"c":19,"x":-14.05,"y":-1.2},{"c":19,"x":-13.3,"y":-0.85},{"c":19,"x":-12.85,"y":-1.05},{"c":19,"x":-12.8,"y":-2.6},{"c":19,"x":-13.5,"y":-4.6},{"c":19,"x":-15,"y":-5.6},
{"c":20,"x":-14.95,"y":-2.1},{"c":20,"x":-14.4,"y":-2.2},{"c":20,"x":-13.9,"y":-3.1},{"c":20,"x":-14.5,"y":-4.45},{"c":20,"x":-15,"y":-4.3}
],
"lc":[
{"c":1,"x":11.45,"y":8.9},{"c":1,"x":10.95,"y":7.9},{"c":1,"x":10.45,"y":7.4},{"c":1,"x":9.85,"y":7.9},{"c":1,"x":9.35,"y":8.9},
{"c":2,"x":8.95,"y":6},{"c":2,"x":8.7,"y":7.15},{"c":2,"x":7.45,"y":7.4},{"c":2,"x":6.35,"y":7.05},{"c":2,"x":5.85,"y":6.4},{"c":2,"x":5.4,"y":6},{"c":2,"x":4.85,"y":6.65},{"c":2,"x":4.1,"y":6.4},{"c":2,"x":3.35,"y":5.4},{"c":2,"x":2.65,"y":3.6},{"c":2,"x":2.75,"y":2.9},{"c":2,"x":3.6,"y":2.35},{"c":2,"x":4.6,"y":2.75},{"c":2,"x":5.45,"y":3.6},{"c":2,"x":6.2,"y":3.85},{"c":2,"x":7.45,"y":3.5},{"c":2,"x":8.35,"y":4.5},{"c":2,"x":8.95,"y":5.5},{"c":2,"x":8.95,"y":6},
{"c":3,"x":14.9,"y":4.95},{"c":3,"x":13.55,"y":5.4},{"c":3,"x":12.95,"y":5.45},{"c":3,"x":12.2,"y":4.65},{"c":3,"x":11.45,"y":4.1},{"c":3,"x":10.45,"y":4.55},{"c":3,"x":8.45,"y":3},{"c":3,"x":7.35,"y":1.6},{"c":3,"x":5.85,"y":1.6},{"c":3,"x":4.6,"y":0.95},{"c":3,"x":2.5,"y":-0.15},{"c":3,"x":1.75,"y":0.5},{"c":3,"x":1.25,"y":1.6},{"c":3,"x":1.35,"y":2.5},{"c":3,"x":1,"y":4},{"c":3,"x":1.2,"y":4.4},{"c":3,"x":1,"y":4.75},{"c":3,"x":0.85,"y":4},{"c":3,"x":-0.15,"y":3.35},{"c":3,"x":-0.6,"y":3.6},{"c":3,"x":-1.05,"y":4.9},
{"c":4,"x":14.9,"y":3},{"c":4,"x":12.95,"y":3.5},{"c":4,"x":11.55,"y":2.75},{"c":4,"x":9.95,"y":2.6},{"c":4,"x":8.7,"y":1.5},{"c":4,"x":7.45,"y":0.6},{"c":4,"x":5.85,"y":0.4},{"c":4,"x":5,"y":-0.3},{"c":4,"x":4.35,"y":-1.05},
{"c":5,"x":14.45,"y":1.3},{"c":5,"x":13.05,"y":1.75},{"c":5,"x":11.55,"y":1.45},{"c":5,"x":9.85,"y":1.2},{"c":5,"x":8.85,"y":0.85},{"c":5,"x":8.2,"y":0},
{"c":6,"x":9.95,"y":0.6},{"c":6,"x":9.65,"y":0.45},
{"c":7,"x":6.4,"y":-0.85},{"c":7,"x":5.9,"y":-0.55},{"c":7,"x":5.25,"y":-1.05},
{"c":8,"x":3.5,"y":7.9},{"c":8,"x":2.75,"y":6.65},{"c":8,"x":1.6,"y":5.4},{"c":8,"x":0.85,"y":5.05},{"c":8,"x":0.35,"y":5.4},
{"c":9,"x":-3.2,"y":3.95},{"c":9,"x":-2.35,"y":3.5},{"c":9,"x":-2.25,"y":3.1},{"c":9,"x":-2.85,"y":2.25},{"c":9,"x":-4.6,"y":1.2},{"c":9,"x":-6.05,"y":0.4},
{"c":10,"x":-3.65,"y":3.45},{"c":10,"x":-4.55,"y":2.45},
{"c":11,"x":0.8,"y":-3.55},{"c":11,"x":1.5,"y":-1.8},{"c":11,"x":1.6,"y":-0.5},{"c":11,"x":1.1,"y":0.5},{"c":11,"x":-0.1,"y":0.75},{"c":11,"x":-1.1,"y":1.1},{"c":11,"x":-2.6,"y":1.05},{"c":11,"x":-4.25,"y":0.35},{"c":11,"x":-5.35,"y":-1.05},{"c":11,"x":-6.2,"y":-3.15},{"c":11,"x":-5.7,"y":-4.65},{"c":11,"x":-5,"y":-5.8},{"c":11,"x":-4,"y":-6},{"c":11,"x":-2.6,"y":-5.85},{"c":11,"x":-1.55,"y":-5.8},
{"c":12,"x":-0.55,"y":-2.05},{"c":12,"x":-1,"y":-1.3},{"c":12,"x":-1.75,"y":-1.05},{"c":12,"x":-2.6,"y":-1.55},{"c":12,"x":-3.1,"y":-2.05},{"c":12,"x":-4.05,"y":-2.55},{"c":12,"x":-4.05,"y":-3.15},{"c":12,"x":-3.25,"y":-3.35},{"c":12,"x":-2.3,"y":-2.9},{"c":12,"x":-1.75,"y":-2.8},{"c":12,"x":-0.85,"y":-2.55},{"c":12,"x":-0.55,"y":-2.05},
{"c":18,"x":-1.6,"y":-3.05},{"c":18,"x":-2.05,"y":-2.6},{"c":18,"x":-2.4,"y":-3.05},{"c":18,"x":-2.05,"y":-3.5},{"c":18,"x":-1.6,"y":-3.05},
{"c":13,"x":-3.05,"y":-7.7},{"c":13,"x":-4.1,"y":-7.3},{"c":13,"x":-5.35,"y":-7.3},{"c":13,"x":-6,"y":-6.95},{"c":13,"x":-6.55,"y":-6.1},
{"c":14,"x":-12.2,"y":-0.15},{"c":14,"x":-12.8,"y":-1.8},{"c":14,"x":-12.95,"y":-3.55},{"c":14,"x":-13.35,"y":-5.05},
{"c":15,"x":-14.2,"y":-2.05},{"c":15,"x":-14.3,"y":-3.05},{"c":15,"x":-14.25,"y":-3.7},{"c":15,"x":-15.05,"y":-5.05}
],
"lf":[
{"c":1,"x":13.95,"y":7.5},{"c":1,"x":13.2,"y":8.4},
{"c":2,"x":14.9,"y":5.45},{"c":2,"x":14.1,"y":6.25},{"c":2,"x":13.45,"y":7.15},{"c":2,"x":12.45,"y":7.5},{"c":2,"x":11.7,"y":8.25},{"c":2,"x":11.45,"y":9.4},
{"c":3,"x":15.35,"y":4},{"c":3,"x":14.35,"y":4.9},{"c":3,"x":13.35,"y":6},{"c":3,"x":12.2,"y":6.15},{"c":3,"x":11.2,"y":6.75},{"c":3,"x":11.05,"y":7.5},{"c":3,"x":11.15,"y":9.4},
{"c":4,"x":14.9,"y":3.1},{"c":4,"x":13.95,"y":3.6},{"c":4,"x":12.95,"y":4.4},{"c":4,"x":11.7,"y":3.35},{"c":4,"x":10.9,"y":2.95},{"c":4,"x":10,"y":3.75},{"c":4,"x":9,"y":2.65},{"c":4,"x":8.25,"y":1.5},{"c":4,"x":7.1,"y":0.45},{"c":4,"x":5.6,"y":0.35},{"c":4,"x":4.75,"y":-0.25},{"c":4,"x":4.7,"y":-1.05},
{"c":5,"x":9.5,"y":8.8},{"c":5,"x":9.75,"y":6.4},{"c":5,"x":9.1,"y":4.5},{"c":5,"x":8.1,"y":2.75},{"c":5,"x":7.35,"y":2},{"c":5,"x":6.85,"y":2},{"c":5,"x":6.35,"y":2.35},{"c":5,"x":5.6,"y":1.6},{"c":5,"x":4.5,"y":0.85},{"c":5,"x":3.9,"y":0.7},{"c":5,"x":3,"y":1},{"c":5,"x":2.15,"y":2.1},{"c":5,"x":1.4,"y":1.85},{"c":5,"x":0.4,"y":2.35},{"c":5,"x":-0.7,"y":3.6},{"c":5,"x":-0.6,"y":4.25},{"c":5,"x":0.15,"y":3.85},{"c":5,"x":1,"y":4.1},{"c":5,"x":1.65,"y":3.75},{"c":5,"x":2,"y":3.1},{"c":5,"x":2.5,"y":2.95},{"c":5,"x":2.95,"y":3.6},{"c":5,"x":3.25,"y":5.15},{"c":5,"x":3.75,"y":8},
{"c":6,"x":14.4,"y":1.7},{"c":6,"x":13.35,"y":2.35},{"c":6,"x":12.9,"y":3.05},{"c":6,"x":12.45,"y":2.1},{"c":6,"x":11.65,"y":1.45},
{"c":7,"x":13.35,"y":1.45},{"c":7,"x":13.3,"y":1.95},{"c":7,"x":12.85,"y":2.25},{"c":7,"x":12.35,"y":1.45},
{"c":8,"x":9,"y":8.85},{"c":8,"x":8.5,"y":8.15},{"c":8,"x":7.85,"y":7.75},{"c":8,"x":7.25,"y":6.75},{"c":8,"x":6.25,"y":6.75},{"c":8,"x":5.5,"y":7.4},{"c":8,"x":4.9,"y":6.9},{"c":8,"x":4.45,"y":6.25},{"c":8,"x":4.2,"y":7.4},{"c":8,"x":4.15,"y":8},
{"c":9,"x":7.55,"y":7.9},{"c":9,"x":6.9,"y":7.3},{"c":9,"x":5.85,"y":7.9},
{"c":10,"x":4.45,"y":4.75},{"c":10,"x":4.2,"y":4.5},{"c":10,"x":4.25,"y":3.5},{"c":10,"x":3.9,"y":2.35},{"c":10,"x":4.4,"y":2.1},{"c":10,"x":4.55,"y":2.75},{"c":10,"x":4.75,"y":4},{"c":10,"x":4.45,"y":4.75},
{"c":11,"x":3,"y":7.9},{"c":11,"x":3,"y":6.25},{"c":11,"x":2.25,"y":5.5},{"c":11,"x":1.5,"y":4.9},{"c":11,"x":0.75,"y":4.9},{"c":11,"x":0.55,"y":5.5},{"c":11,"x":0.65,"y":5.9},
{"c":12,"x":-1.5,"y":4.5},{"c":12,"x":-1.6,"y":4},{"c":12,"x":-2.1,"y":3.5},{"c":12,"x":-2,"y":2.85},{"c":12,"x":-1.2,"y":2.1},{"c":12,"x":-0.2,"y":1.35},{"c":12,"x":-0.6,"y":1.1},{"c":12,"x":-1.1,"y":1.6},{"c":12,"x":-2.6,"y":1.5},{"c":12,"x":-3.55,"y":2},{"c":12,"x":-3.2,"y":2.75},{"c":12,"x":-3.45,"y":3.35},
{"c":13,"x":-4.1,"y":1.85},{"c":13,"x":-4.45,"y":2.25},{"c":13,"x":-4.7,"y":1.85},{"c":13,"x":-4.6,"y":1.35},{"c":13,"x":-4.15,"y":1.4},{"c":13,"x":-4.1,"y":1.85},
{"c":14,"x":1.9,"y":-3.05},{"c":14,"x":1.35,"y":-1.55},{"c":14,"x":0.65,"y":-0.4},{"c":14,"x":0.05,"y":-0.5},{"c":14,"x":-0.85,"y":0.1},{"c":14,"x":-1.6,"y":0.5},{"c":14,"x":-3.35,"y":0.25},{"c":14,"x":-4.1,"y":-0.3},{"c":14,"x":-4.85,"y":-1.3},{"c":14,"x":-5.85,"y":-2.3},{"c":14,"x":-6.45,"y":-1.8},
{"c":15,"x":1.25,"y":-3.05},{"c":15,"x":0.75,"y":-2.05},{"c":15,"x":0,"y":-1.75},{"c":15,"x":-0.6,"y":-2.05},{"c":15,"x":-1.1,"y":-3.15},{"c":15,"x":-0.85,"y":-4.3},{"c":15,"x":-0.95,"y":-5.05},
{"c":16,"x":0.65,"y":-3.15},{"c":16,"x":0.4,"y":-2.8},{"c":16,"x":-0.1,"y":-3.3},{"c":16,"x":-0.35,"y":-4.05},
{"c":17,"x":-1.65,"y":-1.55},{"c":17,"x":-1.95,"y":-1.1},{"c":17,"x":-2.6,"y":-1.3},{"c":17,"x":-3.2,"y":-1.65},{"c":17,"x":-4.1,"y":-1.55},{"c":17,"x":-4.85,"y":-2.45},{"c":17,"x":-4.95,"y":-3.3},{"c":17,"x":-4.45,"y":-4.1},{"c":17,"x":-3.7,"y":-4.15},{"c":17,"x":-3.1,"y":-3.55},{"c":17,"x":-2.7,"y":-2.8},{"c":17,"x":-1.95,"y":-2.4},{"c":17,"x":-1.65,"y":-1.9},{"c":17,"x":-1.65,"y":-1.55},
{"c":18,"x":-7.05,"y":-4.05},{"c":18,"x":-5.95,"y":-2.95},{"c":18,"x":-5.7,"y":-3.95},{"c":18,"x":-4.6,"y":-5.05},{"c":18,"x":-3.1,"y":-5.2},{"c":18,"x":-2.1,"y":-4.95},{"c":18,"x":-1.95,"y":-6.55},
{"c":19,"x":-3.1,"y":-7.95},{"c":19,"x":-3.2,"y":-7.1},{"c":19,"x":-4.1,"y":-6.2},{"c":19,"x":-5.3,"y":-6.2},{"c":19,"x":-5.7,"y":-5.55},{"c":19,"x":-6.55,"y":-5},{"c":19,"x":-7.05,"y":-5.45},
{"c":20,"x":-6.85,"y":-1.55},{"c":20,"x":-7,"y":-2.4},
{"c":21,"x":-4.05,"y":-8.2},{"c":21,"x":-4.95,"y":-8.05},{"c":21,"x":-5.3,"y":-8.6},
{"c":22,"x":7.5,"y":-0.4},{"c":22,"x":6.9,"y":-0.6},
{"c":23,"x":-11.55,"y":-1.25},{"c":23,"x":-11.7,"y":-4.05},
{"c":24,"x":-11.8,"y":-1.15},{"c":24,"x":-11.9,"y":-3.55},{"c":24,"x":-12.35,"y":-4.6},
{"c":25,"x":-12.05,"y":-0.1},{"c":25,"x":-12.4,"y":-2.55},{"c":25,"x":-13.3,"y":-5.05},
{"c":26,"x":-15,"y":-3.25},{"c":26,"x":-14.15,"y":-2.65},{"c":26,"x":-13.4,"y":-1.9},{"c":26,"x":-13.4,"y":-3.3},{"c":26,"x":-13.9,"y":-5.05},{"c":26,"x":-15,"y":-6.1}
]
},
"concat":[
{"width":547,"height":371,"layer":[
{"data":{"name":"t"},"mark":{"type":"rect","strokeWidth":0.4},"encoding":{"x":{"field":"x","type":"quantitative","scale":{"domain":[20.9,-19.9],"nice":false,"zero":false},"axis":{"title":null,"labels":false,"values":[20,19,18,17,16,15,14,13,12,11,10,9,8,7,6,5,4,3,2,1,0,-1,-2,-3,-4,-5,-6,-7,-8,-9,-10,-11,-12,-13,-14,-15,-16,-17,-18,-19],"tickSize":{"condition":{"test":"datum.value%10==0","value":-7},"value":-3.5}}},"x2":{"field":"x2"},"y":{"field":"y","type":"quantitative","scale":{"domain":[14,-14],"reverse":true,"nice":false},"axis":{"title":null,"labelPadding":19,"values":[13,12,11,10,9,8,7,6,5,4,3,2,1,0,-1,-2,-3,-4,-5,-6,-7,-8,-9,-10,-11,-12,-13],"labelExpr":"datum.value%5==0?datum.label:''","tickSize":{"condition":{"test":"datum.value%5==0","value":-11},"value":-5.6}}},"y2":{"field":"y2"},"color":{"field":"v","type":"quantitative","scale":{"domain":[0,255],"range":["#101010","#fff"]},"legend":null},"stroke":{"field":"v","type":"quantitative","scale":{"domain":[0,255],"range":["#101010","#fff"]},"legend":null}}},
{"data":{"name":"lt"},"transform":[{"window":[{"op":"row_number","as":"o"}]}],"mark":{"type":"line","color":"#000","strokeWidth":1.1},"encoding":{"x":{"field":"x","type":"quantitative","axis":null},"y":{"field":"y","type":"quantitative","axis":null},"detail":{"field":"c"},"order":{"field":"o","type":"quantitative"}}},
{"data":{"values":[{"x":0,"y":0}]},"mark":{"type":"point","filled":false,"color":"#000","opacity":1,"strokeWidth":1,"size":177,"shape":"M-1,0L0,-1L1,0L0,1ZM-1,0L1,0M0,-1L0,1"},"encoding":{"x":{"field":"x","type":"quantitative","axis":{"orient":"top","title":null,"labels":false,"values":[20,19,18,17,16,15,14,13,12,11,10,9,8,7,6,5,4,3,2,1,0,-1,-2,-3,-4,-5,-6,-7,-8,-9,-10,-11,-12,-13,-14,-15,-16,-17,-18,-19],"tickSize":{"condition":{"test":"datum.value%10==0","value":-7},"value":-3.5}}},"y":{"field":"y","type":"quantitative","axis":{"orient":"right","title":null,"labels":false,"values":[13,12,11,10,9,8,7,6,5,4,3,2,1,0,-1,-2,-3,-4,-5,-6,-7,-8,-9,-10,-11,-12,-13],"tickSize":{"condition":{"test":"datum.value%5==0","value":-11},"value":-5.6}}}}},
{"data":{"values":[{"x":-14.2,"y":9.6,"s":"T","z":25},{"x":-15.2,"y":8.7,"s":"k","z":13}]},"mark":{"type":"text","align":"left","baseline":"middle","font":"DejaVu Sans","fontWeight":200,"color":"#222"},"encoding":{"x":{"field":"x","type":"quantitative","axis":null},"y":{"field":"y","type":"quantitative","axis":null},"text":{"field":"s"},"size":{"field":"z","type":"quantitative","scale":null}}}
],"resolve":{"axis":{"x":"independent","y":"independent"}}},
{"width":547,"height":371,"layer":[
{"data":{"name":"n"},"mark":{"type":"rect","strokeWidth":0.4},"encoding":{"x":{"field":"x","type":"quantitative","scale":{"domain":[20.9,-20],"nice":false,"zero":false},"axis":{"title":null,"labels":false,"values":[20,19,18,17,16,15,14,13,12,11,10,9,8,7,6,5,4,3,2,1,0,-1,-2,-3,-4,-5,-6,-7,-8,-9,-10,-11,-12,-13,-14,-15,-16,-17,-18,-19,-20],"tickSize":{"condition":{"test":"datum.value%10==0","value":-7},"value":-3.5}}},"x2":{"field":"x2"},"y":{"field":"y","type":"quantitative","scale":{"domain":[14,-14],"reverse":true,"nice":false},"axis":{"title":null,"labels":false,"values":[13,12,11,10,9,8,7,6,5,4,3,2,1,0,-1,-2,-3,-4,-5,-6,-7,-8,-9,-10,-11,-12,-13],"tickSize":{"condition":{"test":"datum.value%5==0","value":-11},"value":-5.6}}},"y2":{"field":"y2"},"color":{"field":"v","type":"quantitative","scale":{"domain":[0,255],"range":["#101010","#fff"]},"legend":null},"stroke":{"field":"v","type":"quantitative","scale":{"domain":[0,255],"range":["#101010","#fff"]},"legend":null}}},
{"data":{"name":"ln"},"transform":[{"window":[{"op":"row_number","as":"o"}]}],"mark":{"type":"line","color":"#000","strokeWidth":1.1},"encoding":{"x":{"field":"x","type":"quantitative","axis":null},"y":{"field":"y","type":"quantitative","axis":null},"detail":{"field":"c"},"order":{"field":"o","type":"quantitative"}}},
{"data":{"values":[{"x":0,"y":0}]},"mark":{"type":"point","filled":false,"color":"#000","opacity":1,"strokeWidth":1,"size":177,"shape":"M-1,0L0,-1L1,0L0,1ZM-1,0L1,0M0,-1L0,1"},"encoding":{"x":{"field":"x","type":"quantitative","axis":{"orient":"top","title":null,"labels":false,"values":[20,19,18,17,16,15,14,13,12,11,10,9,8,7,6,5,4,3,2,1,0,-1,-2,-3,-4,-5,-6,-7,-8,-9,-10,-11,-12,-13,-14,-15,-16,-17,-18,-19],"tickSize":{"condition":{"test":"datum.value%10==0","value":-7},"value":-3.5}}},"y":{"field":"y","type":"quantitative","axis":{"orient":"right","title":null,"labels":false,"values":[13,12,11,10,9,8,7,6,5,4,3,2,1,0,-1,-2,-3,-4,-5,-6,-7,-8,-9,-10,-11,-12,-13],"tickSize":{"condition":{"test":"datum.value%5==0","value":-11},"value":-5.6}}}}},
{"data":{"values":[{"x":-15.67,"y":9.47,"s":"n(H₂)","z":26}]},"mark":{"type":"text","align":"right","baseline":"middle","font":"DejaVu Sans","fontWeight":200,"color":"#222"},"encoding":{"x":{"field":"x","type":"quantitative","axis":null},"y":{"field":"y","type":"quantitative","axis":null},"text":{"field":"s"},"size":{"field":"z","type":"quantitative","scale":null}}}
],"resolve":{"axis":{"x":"independent","y":"independent"}}},
{"width":547,"height":371,"layer":[
{"data":{"name":"c"},"mark":{"type":"rect","strokeWidth":0.4},"encoding":{"x":{"field":"x","type":"quantitative","scale":{"domain":[20.9,-19.9],"nice":false,"zero":false},"axis":{"title":"R.A. offset (arcsec)","titlePadding":10,"labelPadding":19,"values":[20,19,18,17,16,15,14,13,12,11,10,9,8,7,6,5,4,3,2,1,0,-1,-2,-3,-4,-5,-6,-7,-8,-9,-10,-11,-12,-13,-14,-15,-16,-17,-18,-19],"labelExpr":"datum.value%10==0?datum.label:''","tickSize":{"condition":{"test":"datum.value%10==0","value":-7},"value":-3.5}}},"x2":{"field":"x2"},"y":{"field":"y","type":"quantitative","scale":{"domain":[14,-14],"reverse":true,"nice":false},"axis":{"title":"Decl. offset (arcsec)","titleFontSize":28,"titlePadding":24,"labelPadding":19,"values":[13,12,11,10,9,8,7,6,5,4,3,2,1,0,-1,-2,-3,-4,-5,-6,-7,-8,-9,-10,-11,-12,-13],"labelExpr":"datum.value%5==0?datum.label:''","tickSize":{"condition":{"test":"datum.value%5==0","value":-11},"value":-5.6}}},"y2":{"field":"y2"},"color":{"field":"v","type":"quantitative","scale":{"domain":[0,255],"range":["#101010","#fff"]},"legend":null},"stroke":{"field":"v","type":"quantitative","scale":{"domain":[0,255],"range":["#101010","#fff"]},"legend":null}}},
{"data":{"name":"lc"},"transform":[{"window":[{"op":"row_number","as":"o"}]}],"mark":{"type":"line","color":"#000","strokeWidth":1.1},"encoding":{"x":{"field":"x","type":"quantitative","axis":null},"y":{"field":"y","type":"quantitative","axis":null},"detail":{"field":"c"},"order":{"field":"o","type":"quantitative"}}},
{"data":{"values":[{"x":0,"y":0}]},"mark":{"type":"point","filled":false,"color":"#000","opacity":1,"strokeWidth":1,"size":177,"shape":"M-1,0L0,-1L1,0L0,1ZM-1,0L1,0M0,-1L0,1"},"encoding":{"x":{"field":"x","type":"quantitative","axis":{"orient":"top","title":null,"labels":false,"values":[20,19,18,17,16,15,14,13,12,11,10,9,8,7,6,5,4,3,2,1,0,-1,-2,-3,-4,-5,-6,-7,-8,-9,-10,-11,-12,-13,-14,-15,-16,-17,-18,-19],"tickSize":{"condition":{"test":"datum.value%10==0","value":-7},"value":-3.5}}},"y":{"field":"y","type":"quantitative","axis":{"orient":"right","title":null,"labels":false,"values":[13,12,11,10,9,8,7,6,5,4,3,2,1,0,-1,-2,-3,-4,-5,-6,-7,-8,-9,-10,-11,-12,-13],"tickSize":{"condition":{"test":"datum.value%5==0","value":-11},"value":-5.6}}}}},
{"data":{"values":[{"x":-15.9,"y":9.5,"s":"N(CO)/Δv","z":28}]},"mark":{"type":"text","align":"right","baseline":"middle","font":"DejaVu Sans","fontWeight":200,"color":"#222"},"encoding":{"x":{"field":"x","type":"quantitative","axis":null},"y":{"field":"y","type":"quantitative","axis":null},"text":{"field":"s"},"size":{"field":"z","type":"quantitative","scale":null}}}
],"resolve":{"axis":{"x":"independent","y":"independent"}}},
{"width":547,"height":371,"layer":[
{"data":{"name":"f"},"mark":{"type":"rect","strokeWidth":0.4},"encoding":{"x":{"field":"x","type":"quantitative","scale":{"domain":[20.9,-20],"nice":false,"zero":false},"axis":{"title":null,"labelPadding":19,"values":[20,19,18,17,16,15,14,13,12,11,10,9,8,7,6,5,4,3,2,1,0,-1,-2,-3,-4,-5,-6,-7,-8,-9,-10,-11,-12,-13,-14,-15,-16,-17,-18,-19,-20],"labelExpr":"datum.value%10==0?datum.label:''","tickSize":{"condition":{"test":"datum.value%10==0","value":-7},"value":-3.5}}},"x2":{"field":"x2"},"y":{"field":"y","type":"quantitative","scale":{"domain":[14,-14],"reverse":true,"nice":false},"axis":{"title":null,"labels":false,"values":[13,12,11,10,9,8,7,6,5,4,3,2,1,0,-1,-2,-3,-4,-5,-6,-7,-8,-9,-10,-11,-12,-13],"tickSize":{"condition":{"test":"datum.value%5==0","value":-11},"value":-5.6}}},"y2":{"field":"y2"},"color":{"field":"v","type":"quantitative","scale":{"domain":[0,255],"range":["#101010","#fff"]},"legend":null},"stroke":{"field":"v","type":"quantitative","scale":{"domain":[0,255],"range":["#101010","#fff"]},"legend":null}}},
{"data":{"name":"lf"},"transform":[{"window":[{"op":"row_number","as":"o"}]}],"mark":{"type":"line","color":"#000","strokeWidth":1.1},"encoding":{"x":{"field":"x","type":"quantitative","axis":null},"y":{"field":"y","type":"quantitative","axis":null},"detail":{"field":"c"},"order":{"field":"o","type":"quantitative"}}},
{"data":{"values":[{"x":0,"y":0}]},"mark":{"type":"point","filled":false,"color":"#000","opacity":1,"strokeWidth":1,"size":177,"shape":"M-1,0L0,-1L1,0L0,1ZM-1,0L1,0M0,-1L0,1"},"encoding":{"x":{"field":"x","type":"quantitative","axis":{"orient":"top","title":null,"labels":false,"values":[20,19,18,17,16,15,14,13,12,11,10,9,8,7,6,5,4,3,2,1,0,-1,-2,-3,-4,-5,-6,-7,-8,-9,-10,-11,-12,-13,-14,-15,-16,-17,-18,-19],"tickSize":{"condition":{"test":"datum.value%10==0","value":-7},"value":-3.5}}},"y":{"field":"y","type":"quantitative","axis":{"orient":"right","title":null,"labels":false,"values":[13,12,11,10,9,8,7,6,5,4,3,2,1,0,-1,-2,-3,-4,-5,-6,-7,-8,-9,-10,-11,-12,-13],"tickSize":{"condition":{"test":"datum.value%5==0","value":-11},"value":-5.6}}}}},
{"data":{"values":[{"x":-15.67,"y":9.3,"s":"ϕ","z":28}]},"mark":{"type":"text","align":"right","baseline":"middle","font":"DejaVu Sans","fontWeight":200,"color":"#222"},"encoding":{"x":{"field":"x","type":"quantitative","axis":null},"y":{"field":"y","type":"quantitative","axis":null},"text":{"field":"s"},"size":{"field":"z","type":"quantitative","scale":null}}}
],"resolve":{"axis":{"x":"independent","y":"independent"}}}
]}
